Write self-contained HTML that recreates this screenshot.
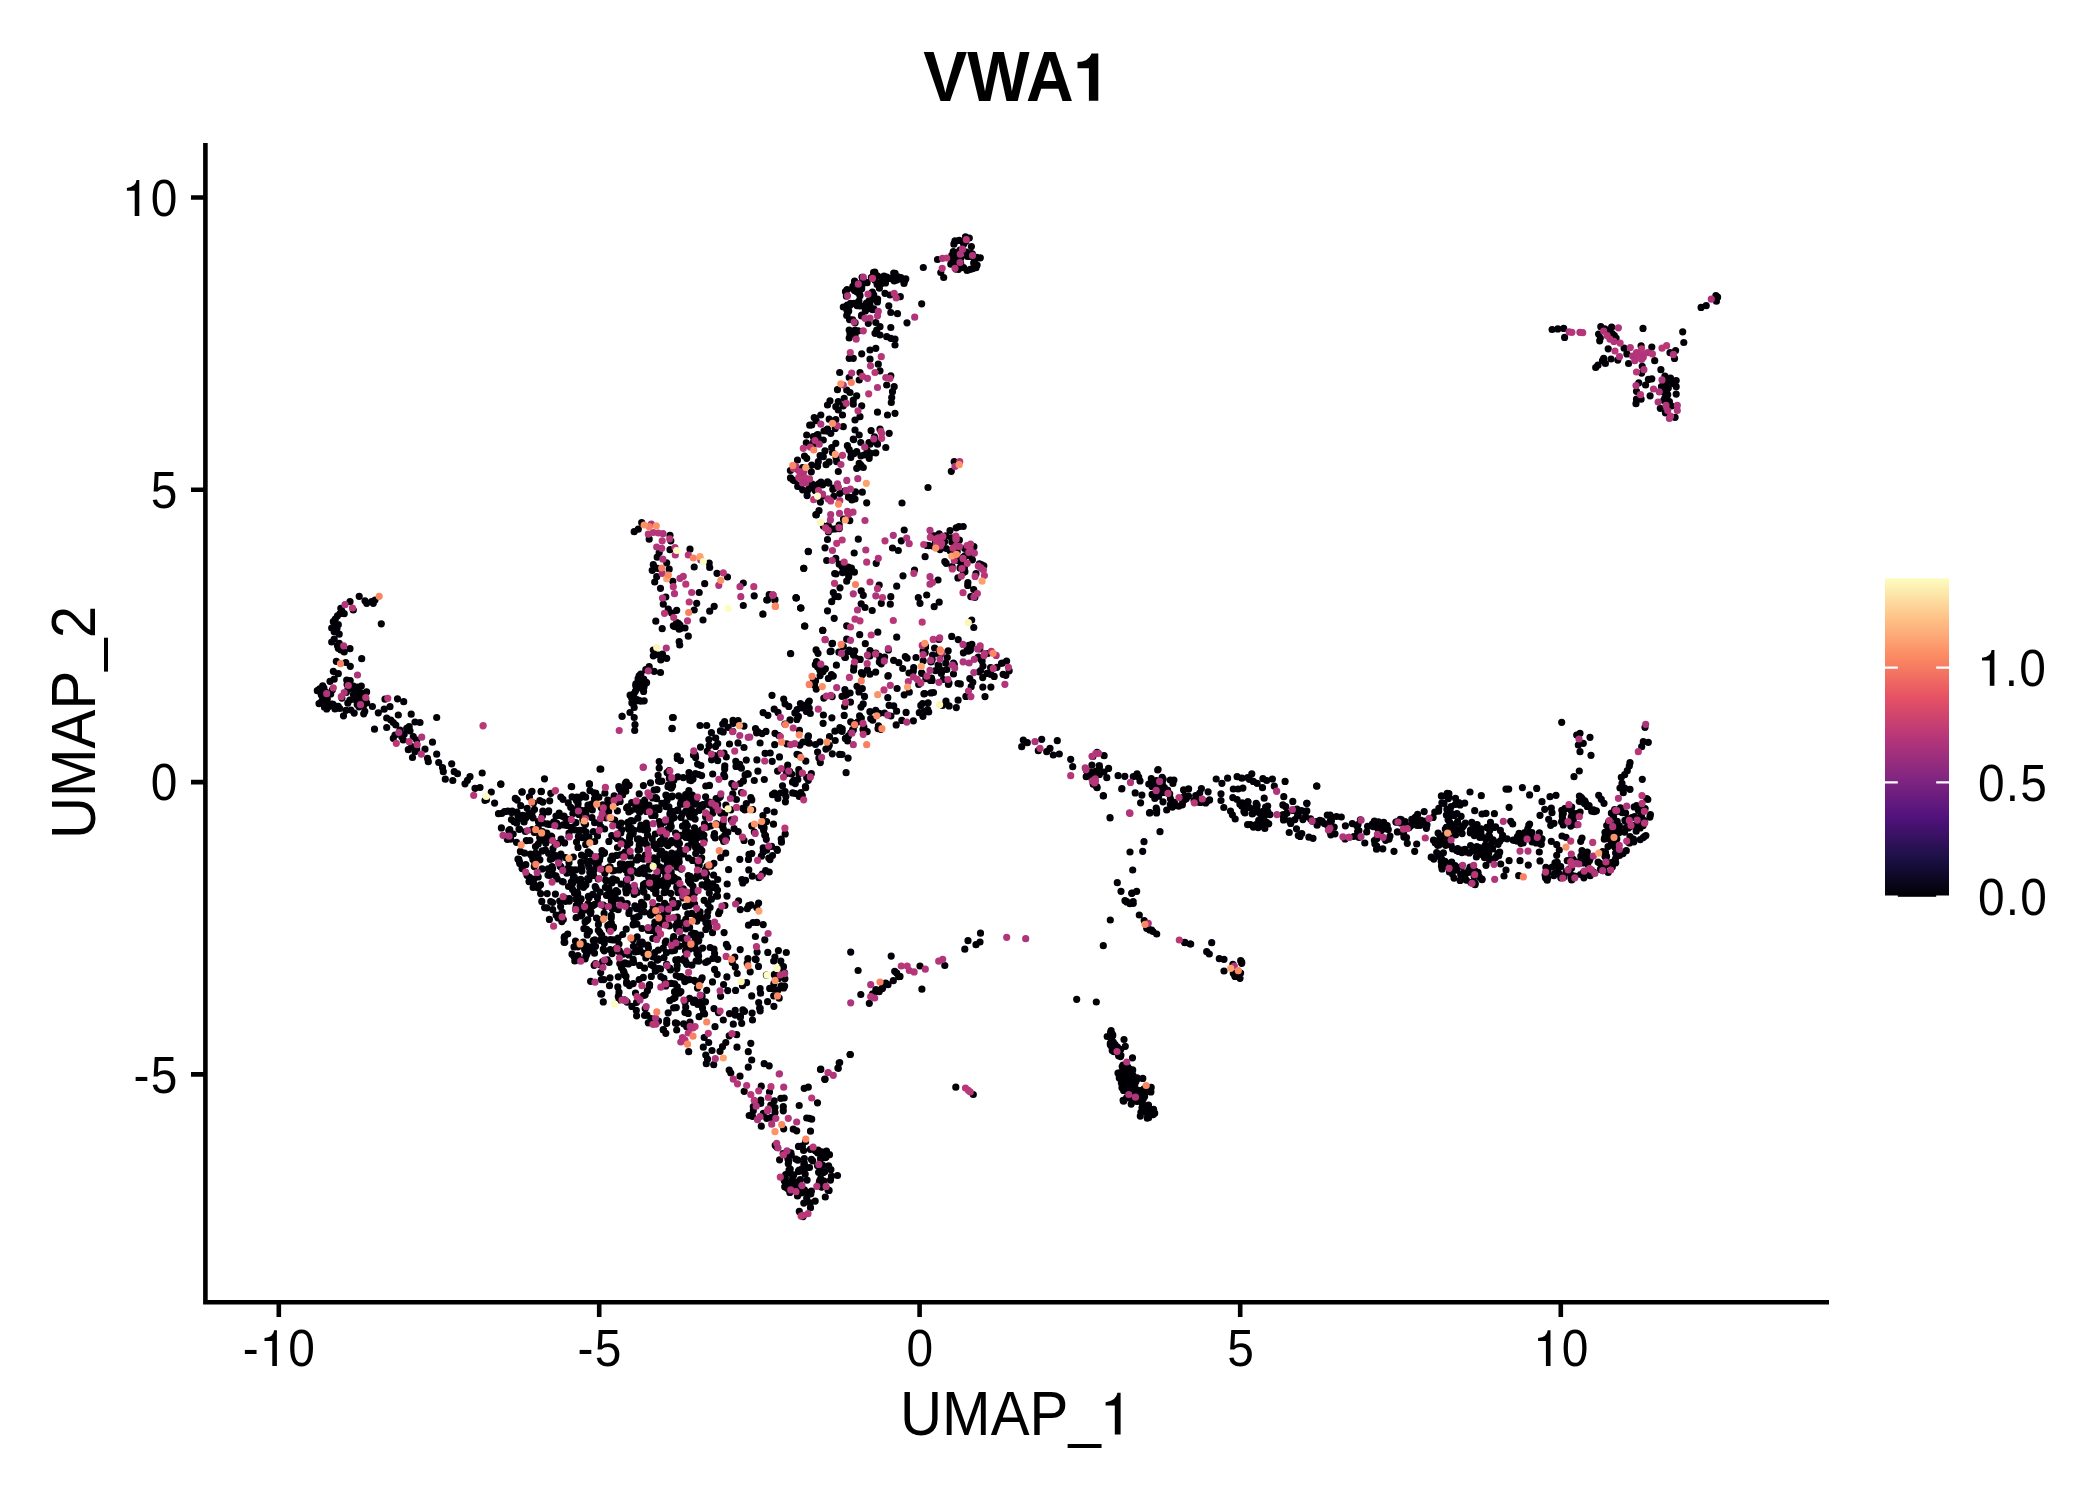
<!DOCTYPE html>
<html><head><meta charset="utf-8"><title>VWA1</title>
<style>
html,body{margin:0;padding:0;background:#fff;}
body{width:2100px;height:1500px;overflow:hidden;font-family:"Liberation Sans",sans-serif;}
svg{display:block;}
text{font-family:"Liberation Sans",sans-serif;fill:#000;}
</style></head><body>
<svg width="2100" height="1500" viewBox="0 0 2100 1500">
<defs>
<linearGradient id="mg" x1="0" y1="1" x2="0" y2="0">
<stop offset="0" stop-color="#000004"/><stop offset="0.125" stop-color="#1D1147"/><stop offset="0.25" stop-color="#51127C"/><stop offset="0.375" stop-color="#822681"/><stop offset="0.5" stop-color="#B63679"/><stop offset="0.625" stop-color="#E65164"/><stop offset="0.75" stop-color="#FB8861"/><stop offset="0.875" stop-color="#FEC287"/><stop offset="1" stop-color="#FCFDBF"/>
</linearGradient>
</defs>
<rect width="2100" height="1500" fill="#fff"/>
<g fill="none" stroke-linecap="round" stroke-width="7.2">
<path d="M1023.3 740.0h0M1021.7 746.7h0M1059.3 754.0h0M1072.7 766.7h0M1086.5 770.6h0M1099.3 765.5h0M1089.9 775.9h0M1106.8 777.7h0M1104.0 772.0h0M1092.6 776.5h0M1108.6 768.4h0M1086.2 776.7h0M1091.9 765.1h0M1124.8 776.3h0M1137.1 773.8h0M1141.9 795.1h0M1133.3 776.7h0M1103.4 795.7h0M1156.2 808.1h0M1182.7 801.2h0M1159.6 788.0h0M1157.6 790.0h0M1188.5 796.1h0M1164.4 787.5h0M1152.0 786.4h0M1163.2 779.3h0M1167.6 790.0h0M1170.3 804.6h0M1154.8 798.5h0M1184.2 799.5h0M1157.1 782.4h0M1174.4 802.3h0M1201.0 802.3h0M1205.7 802.9h0M1209.6 799.9h0M1203.3 801.6h0M1208.1 791.8h0M1216.2 779.0h0M1227.6 778.2h0M1251.8 773.8h0M1272.4 779.0h0M1274.3 786.2h0M1249.5 779.5h0M1233.3 789.0h0M1307.0 803.3h0M1247.6 824.7h0M1259.0 826.6h0M1264.8 828.5h0M1252.5 813.4h0M1245.2 807.9h0M1260.7 814.2h0M1267.7 806.0h0M1263.0 811.4h0M1247.8 801.8h0M1257.2 805.3h0M1242.1 802.8h0M1249.4 807.5h0M1265.6 807.0h0M1150.0 812.7h0M1316.7 786.0h0M1289.6 820.9h0M1376.8 838.7h0M1349.0 837.3h0M1374.4 840.6h0M1372.5 823.8h0M1389.1 839.1h0M1301.5 810.6h0M1330.5 820.5h0M1374.9 843.8h0M1334.2 827.1h0M1289.2 832.5h0M1376.5 849.2h0M1387.2 825.7h0M1374.4 821.2h0M1313.0 838.3h0M1298.3 815.5h0M1319.8 820.3h0M1297.0 809.0h0M1285.7 806.7h0M1376.7 846.0h0M1360.4 819.8h0M1296.5 828.8h0M1382.8 848.8h0M1411.0 825.6h0M1400.2 819.3h0M1401.3 819.7h0M1415.3 820.9h0M1411.8 819.4h0M1426.4 828.3h0M1417.2 825.5h0M1395.9 822.1h0M1415.5 817.1h0M1424.4 821.0h0M1407.0 825.7h0M1416.7 844.0h0M1407.3 843.3h0M1438.8 808.4h0M1451.1 806.6h0M1444.0 803.3h0M1446.9 809.4h0M1447.0 795.0h0M1470.0 792.0h0M1506.0 789.1h0M1529.6 794.9h0M1482.0 814.0h0M1493.1 859.3h0M1470.5 830.0h0M1439.2 840.1h0M1480.9 831.9h0M1499.8 841.3h0M1458.8 851.4h0M1465.4 823.2h0M1495.6 826.8h0M1475.0 831.5h0M1433.5 840.2h0M1462.5 826.1h0M1470.6 845.5h0M1454.8 829.1h0M1489.3 836.4h0M1448.1 819.7h0M1485.6 855.2h0M1493.1 839.8h0M1489.5 860.0h0M1489.7 830.4h0M1447.0 844.6h0M1457.6 821.5h0M1485.8 850.0h0M1495.6 857.4h0M1452.6 849.0h0M1498.1 844.3h0M1444.8 838.4h0M1452.7 825.0h0M1486.0 838.6h0M1446.5 827.3h0M1472.5 850.9h0M1483.0 850.3h0M1443.6 835.7h0M1491.9 842.5h0M1456.2 823.8h0M1445.7 845.3h0M1487.8 856.9h0M1491.9 848.3h0M1440.7 854.3h0M1469.0 869.8h0M1460.7 874.6h0M1460.1 880.4h0M1463.6 874.4h0M1431.2 857.2h0M1452.2 873.8h0M1449.4 872.0h0M1455.1 865.5h0M1474.2 876.4h0M1470.1 867.2h0M1466.3 880.1h0M1461.5 866.5h0M1443.4 852.8h0M1444.4 866.1h0M1468.5 872.3h0M1482.0 879.7h0M1506.0 870.0h0M1504.0 876.0h0M1528.3 865.1h0M1540.0 860.9h0M1518.7 875.7h0M1512.7 824.0h0M1527.6 835.9h0M1520.7 841.8h0M1536.2 842.9h0M1540.4 843.4h0M1517.1 841.1h0M1513.1 840.1h0M1523.1 843.0h0M1527.3 837.6h0M1521.0 843.5h0M1514.4 840.3h0M1542.0 801.7h0M1550.0 796.7h0M1544.7 809.3h0M1601.3 799.3h0M1551.3 841.3h0M1559.3 850.0h0M1646.7 798.7h0M1629.3 766.0h0M1624.7 788.0h0M1573.7 818.6h0M1571.9 821.8h0M1562.3 816.5h0M1563.3 824.9h0M1587.2 806.4h0M1579.3 801.3h0M1579.4 796.0h0M1585.0 804.0h0M1591.7 811.2h0M1582.3 798.8h0M1584.8 800.8h0M1589.1 805.7h0M1601.7 864.9h0M1638.4 810.4h0M1623.0 853.6h0M1614.0 828.4h0M1614.6 809.7h0M1629.5 842.9h0M1630.5 825.4h0M1642.6 811.6h0M1621.0 810.6h0M1608.0 846.6h0M1633.4 839.1h0M1620.5 807.9h0M1614.6 844.5h0M1645.9 835.5h0M1607.5 825.9h0M1613.9 841.3h0M1606.7 825.5h0M1637.5 827.3h0M1650.4 814.5h0M1610.4 833.1h0M1627.7 819.2h0M1617.2 830.0h0M1608.8 821.7h0M1615.0 847.2h0M1600.3 863.6h0M1641.3 814.6h0M1602.7 851.5h0M1619.5 855.5h0M1602.9 870.6h0M1632.9 840.0h0M1611.2 837.8h0M1574.7 876.0h0M1574.0 861.7h0M1571.7 880.0h0M1569.2 869.1h0M1589.5 860.4h0M1552.1 867.0h0M1580.5 874.5h0M1571.2 879.0h0M1590.1 858.0h0M1582.4 862.9h0M1583.5 872.4h0M1559.5 874.0h0M1545.5 877.8h0M1586.9 872.4h0M1558.8 866.4h0M1572.1 864.2h0M1572.2 862.7h0M1567.3 860.7h0M1553.9 875.6h0M1567.9 871.1h0M1557.3 862.4h0M1641.7 746.7h0M1643.3 741.7h0M1645.0 727.3h0M1642.3 779.3h0M1591.0 755.3h0M1574.0 776.7h0M1576.7 735.0h0M1126.7 901.7h0M1133.3 903.3h0M1130.0 903.3h0M1209.3 954.0h0M1219.3 958.7h0M1103.3 945.7h0M1235.0 976.0h0M585.9 951.1h0M643.7 859.2h0M547.2 893.6h0M504.4 811.7h0M590.6 913.6h0M679.5 976.9h0M575.5 809.8h0M610.4 939.6h0M600.2 856.4h0M716.1 798.7h0M648.7 877.2h0M705.5 1001.8h0M695.0 845.4h0M710.9 866.1h0M486.4 799.7h0M672.3 796.0h0M709.6 802.1h0M671.1 842.8h0M625.5 866.7h0M542.9 822.9h0M623.5 854.2h0M613.3 927.9h0M582.8 910.3h0M621.9 829.5h0M640.1 840.6h0M604.6 829.0h0M618.2 909.7h0M617.8 986.9h0M694.8 892.7h0M575.9 908.9h0M590.6 981.3h0M576.0 960.0h0M557.2 878.8h0M588.4 896.3h0M712.7 887.3h0M681.2 801.5h0M627.5 784.7h0M658.0 959.6h0M548.6 853.5h0M689.6 998.4h0M547.2 823.9h0M607.8 925.7h0M625.3 783.6h0M586.9 920.6h0M688.0 847.7h0M593.3 940.5h0M652.2 838.7h0M698.5 848.3h0M563.3 919.5h0M622.6 795.0h0M592.3 951.0h0M705.8 929.4h0M621.3 793.6h0M516.5 842.3h0M597.5 836.0h0M700.1 1002.9h0M585.5 824.3h0M707.8 903.8h0M676.0 811.0h0M684.9 959.5h0M643.4 995.5h0M685.0 1002.2h0M699.1 831.9h0M541.8 901.4h0M684.8 981.6h0M695.8 878.3h0M695.1 819.1h0M572.1 796.9h0M624.4 999.9h0M578.2 909.2h0M610.2 867.0h0M698.2 952.3h0M625.7 889.4h0M676.3 1007.6h0M633.5 923.8h0M675.3 941.1h0M660.5 844.0h0M695.8 981.6h0M548.0 875.1h0M719.8 911.2h0M691.1 799.7h0M588.0 903.9h0M702.6 948.1h0M631.0 877.6h0M700.8 980.3h0M655.5 971.1h0M664.0 957.7h0M596.5 918.0h0M683.3 777.6h0M611.9 883.0h0M633.9 830.3h0M529.6 877.4h0M594.6 822.7h0M663.3 1029.5h0M675.4 1022.9h0M668.0 786.7h0M705.7 962.5h0M525.8 864.7h0M507.9 811.0h0M699.9 805.7h0M633.0 871.0h0M564.5 936.6h0M711.4 899.2h0M649.7 954.5h0M690.9 813.4h0M702.5 918.2h0M694.6 904.0h0M688.9 790.7h0M556.0 875.9h0M692.1 892.1h0M622.7 864.0h0M636.5 908.7h0M698.8 961.1h0M702.1 884.9h0M650.9 1018.6h0M551.7 836.6h0M712.5 981.9h0M695.7 853.6h0M643.9 867.9h0M594.5 953.2h0M660.5 968.9h0M651.5 929.4h0M661.6 851.0h0M689.8 948.9h0M628.9 829.5h0M698.6 832.6h0M525.4 831.5h0M625.0 789.1h0M563.1 824.8h0M620.4 832.4h0M690.0 1022.2h0M501.4 827.9h0M727.8 832.2h0M604.7 906.4h0M586.4 861.5h0M577.7 813.2h0M666.0 806.7h0M631.9 1006.4h0M598.2 879.0h0M719.1 797.8h0M546.8 833.1h0M680.2 850.2h0M708.7 927.0h0M485.0 800.5h0M518.8 859.4h0M616.5 855.4h0M501.9 813.3h0M686.9 964.3h0M686.8 831.7h0M627.7 806.9h0M548.2 812.0h0M696.1 961.0h0M668.5 784.8h0M639.2 793.8h0M709.3 893.1h0M574.8 961.0h0M601.7 935.2h0M731.8 783.7h0M515.3 798.4h0M619.0 992.2h0M510.6 839.2h0M717.7 879.5h0M677.3 986.8h0M674.5 950.5h0M599.1 860.5h0M569.0 836.5h0M708.4 922.9h0M606.5 881.0h0M534.3 866.6h0M667.5 884.5h0M723.0 823.8h0M558.9 857.7h0M654.7 808.2h0M624.1 972.5h0M614.1 894.9h0M546.8 907.8h0M532.0 813.0h0M611.9 819.0h0M517.8 815.1h0M572.0 954.2h0M705.9 922.7h0M670.4 864.5h0M644.6 1015.4h0M585.0 885.4h0M686.7 927.3h0M689.2 777.1h0M713.9 863.3h0M566.9 873.2h0M548.1 868.8h0M552.1 858.6h0M694.7 812.7h0M522.3 818.2h0M639.2 949.3h0M519.8 863.6h0M618.6 951.5h0M688.6 880.4h0M659.8 854.9h0M595.5 963.7h0M511.4 819.6h0M610.7 859.7h0M603.8 979.6h0M721.3 812.8h0M679.1 927.2h0M580.6 916.0h0M638.1 850.1h0M561.8 921.6h0M585.9 956.0h0M736.4 799.5h0M675.0 842.1h0M642.9 944.2h0M715.2 838.0h0M689.3 812.7h0M612.5 859.4h0M667.3 906.2h0M593.2 946.3h0M692.9 896.3h0M668.9 862.8h0M661.8 867.8h0M669.8 1000.6h0M646.4 811.4h0M685.4 1000.7h0M648.3 1022.8h0M615.6 898.8h0M611.4 904.4h0M663.9 978.3h0M615.2 836.4h0M578.0 847.4h0M598.1 865.5h0M677.2 965.6h0M534.2 832.3h0M672.6 900.0h0M577.9 801.8h0M583.9 928.7h0M581.9 871.1h0M656.2 932.9h0M703.5 1012.5h0M630.2 855.9h0M648.4 930.5h0M535.6 853.0h0M588.8 866.9h0M715.8 800.9h0M643.3 977.4h0M600.7 826.7h0M705.1 825.9h0M709.3 865.4h0M627.2 845.7h0M683.8 922.4h0M697.0 953.6h0M619.2 1000.0h0M583.5 829.8h0M676.9 968.7h0M586.1 909.9h0M668.8 864.2h0M631.2 828.1h0M637.2 936.9h0M519.0 829.0h0M698.7 774.5h0M723.0 823.1h0M628.9 913.4h0M649.4 869.1h0M680.9 991.6h0M604.4 817.5h0M691.2 800.8h0M580.1 886.1h0M677.4 844.3h0M633.2 959.4h0M578.1 803.8h0M588.9 837.2h0M552.6 902.5h0M539.8 800.6h0M613.0 904.4h0M726.5 838.6h0M649.3 985.9h0M666.5 795.6h0M673.5 943.4h0M585.1 921.9h0M614.7 820.1h0M601.7 993.8h0M697.8 1004.5h0M604.2 853.3h0M655.0 815.4h0M535.4 859.8h0M506.8 811.3h0M621.1 840.9h0M636.6 1015.8h0M713.3 804.0h0M702.1 977.9h0M633.2 833.4h0M612.1 856.1h0M585.7 797.2h0M636.6 1002.3h0M653.8 843.7h0M713.9 836.0h0M604.9 939.1h0M689.2 833.5h0M664.2 911.0h0M544.6 907.6h0M631.7 802.5h0M706.7 990.3h0M558.5 855.8h0M706.3 803.5h0M667.5 864.2h0M584.5 856.5h0M679.5 946.1h0M682.3 813.8h0M666.0 941.0h0M702.4 806.7h0M602.3 815.2h0M652.9 888.4h0M665.3 854.2h0M598.3 930.3h0M597.3 897.2h0M578.9 814.4h0M658.5 906.3h0M616.4 802.4h0M577.2 892.1h0M569.0 862.7h0M581.4 868.7h0M588.1 851.8h0M690.5 876.7h0M639.0 907.1h0M683.7 960.3h0M647.5 835.0h0M619.3 950.7h0M671.5 840.6h0M646.7 883.8h0M620.4 863.9h0M573.3 857.0h0M595.6 863.3h0M621.2 900.0h0M668.3 924.4h0M674.2 879.4h0M635.4 952.0h0M551.2 836.2h0M630.3 877.2h0M593.6 875.3h0M635.7 809.1h0M662.1 870.4h0M529.9 840.5h0M689.8 896.3h0M670.8 893.3h0M630.0 835.9h0M675.4 878.6h0M639.2 845.2h0M664.9 884.6h0M550.3 859.5h0M630.8 810.6h0M561.1 839.2h0M625.0 962.8h0M695.5 933.7h0M678.2 903.7h0M528.4 814.6h0M691.3 893.1h0M629.0 825.2h0M654.4 877.2h0M572.2 869.8h0M655.3 834.0h0M653.2 907.2h0M611.3 915.4h0M627.6 886.7h0M643.3 904.3h0M660.4 841.2h0M588.5 805.7h0M587.8 919.5h0M617.4 810.8h0M588.0 805.2h0M588.9 879.6h0M655.7 893.5h0M639.1 916.2h0M587.9 863.8h0M572.5 889.4h0M671.2 872.0h0M596.2 888.5h0M602.0 850.6h0M646.8 868.2h0M656.0 913.1h0M645.3 855.0h0M699.1 861.0h0M641.0 807.8h0M666.5 952.7h0M590.6 860.8h0M637.3 872.8h0M628.8 954.9h0M575.7 899.0h0M625.1 852.1h0M615.7 799.4h0M678.1 880.2h0M649.3 865.5h0M664.6 903.3h0M648.5 948.1h0M671.9 876.2h0M662.7 917.8h0M664.1 892.7h0M586.9 809.6h0M657.6 875.1h0M645.4 883.4h0M574.5 893.2h0M701.5 829.9h0M532.1 829.7h0M553.0 848.5h0M744.8 810.0h0M776.9 849.3h0M780.3 969.6h0M762.9 815.6h0M767.8 952.4h0M773.7 995.8h0M758.7 1002.6h0M738.2 831.7h0M769.2 872.0h0M764.8 939.8h0M740.2 949.6h0M751.8 799.9h0M738.6 900.8h0M765.6 870.5h0M734.8 957.1h0M758.5 966.4h0M748.5 925.2h0M726.9 976.9h0M735.6 990.4h0M751.7 995.9h0M740.3 909.6h0M735.2 1010.3h0M767.6 1001.7h0M741.5 792.6h0M742.9 1009.9h0M770.0 859.6h0M760.6 993.2h0M780.8 961.0h0M756.9 922.4h0M784.6 972.9h0M755.2 959.0h0M754.3 832.0h0M777.4 850.3h0M757.1 952.1h0M751.0 904.9h0M747.3 908.7h0M784.6 986.0h0M776.3 973.3h0M771.6 846.3h0M785.2 833.9h0M766.6 850.2h0M763.2 852.0h0M764.1 827.9h0M715.7 738.0h0M780.5 793.0h0M829.5 736.7h0M700.5 747.1h0M832.3 753.8h0M797.1 709.6h0M790.0 719.9h0M766.0 731.4h0M785.0 724.1h0M919.3 712.7h0M806.4 711.4h0M805.8 761.2h0M878.5 725.9h0M825.9 749.1h0M697.6 764.1h0M869.9 711.7h0M760.1 743.0h0M728.1 727.3h0M799.1 755.1h0M720.4 730.9h0M802.1 707.8h0M786.8 743.8h0M795.3 783.6h0M755.5 728.5h0M757.8 731.7h0M831.9 717.8h0M806.7 777.7h0M928.1 702.8h0M878.0 728.6h0M724.6 721.6h0M842.0 696.3h0M956.3 707.6h0M857.9 721.8h0M782.5 785.8h0M808.4 735.8h0M839.9 727.6h0M800.4 703.5h0M820.0 741.8h0M931.0 692.9h0M842.1 731.3h0M773.8 794.1h0M677.3 758.4h0M803.0 742.0h0M711.4 732.7h0M799.5 730.3h0M808.3 780.3h0M850.5 702.1h0M797.8 779.5h0M861.0 707.1h0M741.4 768.2h0M789.5 771.3h0M778.0 712.4h0M744.0 747.5h0M909.3 692.2h0M901.8 720.4h0M800.8 792.7h0M924.0 711.6h0M924.7 693.6h0M708.9 739.6h0M842.0 754.5h0M850.7 721.8h0M745.1 774.9h0M906.1 712.4h0M985.0 696.6h0M711.6 759.8h0M853.5 723.3h0M785.0 703.8h0M680.6 760.6h0M754.3 780.5h0M808.1 742.6h0M785.9 796.6h0M848.2 693.5h0M850.1 693.0h0M844.2 715.4h0M927.7 709.7h0M738.0 742.9h0M792.7 792.9h0M852.7 729.7h0M762.1 733.6h0M658.1 775.3h0M677.3 756.1h0M672.0 728.7h0M732.8 731.3h0M772.0 695.3h0M532.0 791.3h0M541.3 791.3h0M846.1 772.7h0M860.8 994.5h0M893.3 980.7h0M980.0 942.0h0M980.5 933.2h0M839.2 1062.8h0M820.8 1069.2h0M715.0 1026.7h0M723.3 1020.0h0M703.3 1047.2h0M725.8 1042.5h0M722.5 1046.7h0M750.8 1043.3h0M764.2 1063.7h0M761.3 1086.2h0M774.2 1100.8h0M783.3 1110.8h0M770.8 1117.5h0M760.8 1103.3h0M775.0 1112.5h0M770.8 1105.0h0M799.2 1105.5h0M804.2 1088.3h0M810.5 1131.2h0M839.7 1062.5h0M850.3 1054.5h0M789.8 1192.4h0M831.5 1176.1h0M826.1 1156.9h0M804.3 1158.6h0M803.5 1171.1h0M804.3 1163.1h0M819.6 1180.9h0M810.8 1194.0h0M798.5 1171.1h0M791.3 1154.9h0M830.9 1169.6h0M828.6 1165.8h0M819.3 1182.3h0M775.2 1145.3h0M795.2 1185.1h0M787.1 1183.1h0M785.7 1174.6h0M822.5 1165.2h0M812.7 1160.8h0M799.5 1192.0h0M806.7 1198.2h0M790.9 1152.9h0M821.6 1187.1h0M788.7 1161.1h0M821.7 1151.8h0M811.5 1159.4h0M779.6 1159.8h0M785.4 1178.0h0M803.8 1203.1h0M817.7 1152.8h0M791.4 1188.1h0M366.7 603.3h0M338.3 624.7h0M334.2 639.2h0M331.7 642.0h0M350.0 648.7h0M350.3 666.3h0M381.3 623.8h0M337.0 628.3h0M335.3 619.2h0M335.0 626.7h0M330.7 693.9h0M361.6 703.9h0M331.5 704.1h0M349.9 700.0h0M343.5 715.8h0M321.9 701.0h0M333.1 704.3h0M324.5 707.2h0M332.4 689.8h0M357.0 687.2h0M353.4 686.2h0M326.7 708.9h0M347.1 684.5h0M335.0 709.0h0M366.6 691.9h0M338.2 706.3h0M322.7 685.8h0M357.2 704.5h0M348.0 689.1h0M327.2 704.1h0M350.9 710.0h0M321.1 694.0h0M346.0 710.3h0M353.5 699.1h0M321.4 695.0h0M322.6 699.4h0M346.4 692.3h0M372.4 706.5h0M363.7 713.8h0M330.0 681.3h0M385.0 699.2h0M390.0 706.7h0M398.3 715.0h0M386.7 718.0h0M386.7 727.5h0M410.0 730.8h0M432.5 742.2h0M415.0 751.7h0M425.0 749.2h0M436.7 754.2h0M438.7 762.5h0M442.5 767.5h0M451.7 763.8h0M454.2 771.7h0M457.5 773.7h0M491.3 792.0h0M390.8 720.0h0M406.7 728.3h0M395.0 735.0h0M416.7 749.2h0M622.2 716.3h0M589.5 784.2h0M522.0 792.0h0M531.7 791.7h0M560.8 797.0h0M549.7 800.8h0M618.8 786.7h0M634.2 531.7h0M649.2 539.2h0M670.0 549.7h0M657.2 557.2h0M666.7 562.8h0M656.7 576.7h0M673.3 625.8h0M709.2 563.0h0M766.7 600.0h0M774.7 600.0h0M704.7 583.7h0M694.2 610.0h0M703.0 620.0h0M709.7 611.2h0M653.3 650.0h0M658.3 655.0h0M660.8 660.0h0M645.8 669.7h0M644.2 700.8h0M622.0 716.3h0M673.3 717.5h0M808.3 551.3h0M800.8 608.0h0M804.7 626.2h0M790.5 653.7h0M642.5 681.5h0M635.5 691.0h0M640.7 701.2h0M640.8 674.1h0M645.5 682.0h0M640.1 683.8h0M639.5 700.5h0M635.8 685.8h0M632.4 701.9h0M630.1 695.2h0M641.8 687.7h0M631.9 702.9h0M828.4 532.0h0M835.7 528.8h0M827.6 481.9h0M818.7 483.8h0M807.1 495.6h0M833.8 488.2h0M802.6 489.8h0M855.0 499.0h0M828.3 525.7h0M849.8 520.6h0M855.5 491.9h0M848.6 497.1h0M820.4 502.1h0M807.4 490.9h0M815.9 514.7h0M828.8 483.2h0M797.7 486.5h0M799.9 486.3h0M790.4 470.5h0M802.7 476.0h0M812.3 484.0h0M851.9 500.0h0M802.6 467.6h0M824.0 431.0h0M820.1 455.5h0M826.1 464.7h0M836.1 457.8h0M835.2 428.4h0M857.8 467.5h0M876.6 442.4h0M847.4 445.7h0M954.2 461.7h0M928.0 487.5h0M951.4 537.8h0M925.1 556.7h0M946.2 563.3h0M933.3 546.2h0M969.0 552.1h0M926.9 545.4h0M976.0 573.7h0M967.9 582.5h0M957.2 551.5h0M981.3 564.5h0M934.9 535.9h0M964.7 548.5h0M950.0 530.6h0M960.2 559.0h0M958.9 526.7h0M968.3 550.2h0M957.9 577.9h0M946.3 548.5h0M964.9 571.7h0M940.0 549.6h0M979.4 563.9h0M959.4 540.0h0M944.6 541.8h0M929.0 545.7h0M896.7 586.2h0M920.0 603.3h0M934.2 606.7h0M858.3 539.2h0M825.0 547.8h0M826.7 560.5h0M846.7 581.2h0M840.0 587.8h0M833.3 592.5h0M838.3 596.7h0M861.2 590.8h0M863.3 595.3h0M881.3 603.3h0M890.3 604.2h0M834.2 618.3h0M804.7 626.2h0M822.8 630.3h0M877.8 632.2h0M832.5 643.3h0M849.2 650.0h0M775.0 599.7h0M971.7 620.0h0M844.1 571.7h0M834.7 573.5h0M848.4 573.2h0M843.3 570.8h0M844.5 567.5h0M967.1 270.5h0M971.4 246.6h0M970.5 256.4h0M956.1 268.4h0M967.3 256.3h0M976.0 267.7h0M970.2 269.3h0M963.6 242.7h0M959.8 261.7h0M951.7 259.6h0M967.9 256.2h0M969.3 238.0h0M970.9 253.7h0M943.7 277.5h0M955.0 240.8h0M865.4 310.9h0M880.4 283.1h0M861.5 316.0h0M905.8 278.8h0M846.7 315.5h0M876.1 275.3h0M870.2 308.4h0M890.9 278.6h0M846.9 310.0h0M863.2 280.2h0M883.1 277.7h0M859.6 294.1h0M871.7 277.5h0M894.3 281.0h0M880.4 284.2h0M854.1 303.4h0M879.4 288.2h0M861.7 288.8h0M896.3 280.2h0M904.0 283.5h0M855.5 291.0h0M853.1 288.8h0M884.0 276.2h0M847.1 314.6h0M885.5 282.9h0M873.8 308.9h0M843.3 307.0h0M883.3 277.8h0M890.0 295.0h0M900.3 296.7h0M888.8 305.8h0M890.8 312.5h0M921.7 303.8h0M890.8 327.5h0M849.2 330.0h0M880.0 326.7h0M886.7 336.7h0M890.8 338.3h0M895.0 339.2h0M895.0 345.0h0M870.0 350.0h0M853.3 358.3h0M870.0 359.2h0M839.7 372.5h0M849.2 377.5h0M846.7 390.0h0M853.3 400.0h0M861.7 405.8h0M838.3 410.0h0M860.0 416.7h0M855.0 420.0h0M894.2 386.7h0M814.2 417.5h0M820.8 415.0h0M811.7 425.0h0M843.3 426.7h0M827.5 429.2h0M855.0 430.0h0M859.2 435.0h0M806.7 435.0h0M818.3 438.3h0M823.3 440.0h0M831.7 447.5h0M825.0 450.8h0M832.5 452.5h0M860.8 442.5h0M870.0 444.2h0M864.2 455.0h0M870.8 453.3h0M818.3 461.7h0M859.2 463.3h0M856.7 468.3h0M1716.4 301.2h0M1552.1 329.5h0M1614.4 335.7h0M1616.1 338.0h0M1598.0 365.2h0M1611.0 359.0h0M1651.8 347.1h0M1675.6 350.5h0M1674.5 358.4h0M1643.0 328.4h0M1683.8 342.5h0M1642.2 366.3h0M1670.5 378.2h0M1676.2 380.5h0M1648.4 379.4h0M1676.2 386.7h0M1661.5 386.7h0M1636.5 391.3h0M1650.1 395.8h0M1676.2 394.1h0M1664.9 398.1h0M1641.1 399.2h0M1636.0 403.7h0M1660.3 408.3h0M1667.1 381.6h0M1663.2 391.8h0M922.0 673.3h0M921.6 672.9h0M970.4 650.1h0M978.3 657.0h0M947.3 657.5h0M938.9 665.5h0M963.4 652.8h0M934.6 648.0h0M968.9 645.4h0M925.5 647.0h0M972.8 682.3h0M996.9 667.3h0M1003.1 674.3h0M946.8 669.5h0M925.8 678.7h0M941.3 673.5h0M953.5 674.0h0M923.1 651.2h0M971.2 686.7h0M954.3 664.6h0M925.3 645.8h0M825.4 668.8h0M844.5 654.1h0M868.5 655.8h0M869.8 656.0h0M844.9 689.7h0M884.6 657.0h0M897.1 688.5h0M857.0 686.3h0M888.3 675.6h0M831.1 651.2h0M844.8 657.2h0M887.9 676.2h0M817.7 667.0h0M790.7 653.7h0M796.0 597.7h0M1111.1 1045.7h0M1117.5 1047.1h0M1110.3 1044.6h0M1114.0 1051.7h0M1110.9 1042.5h0M1132.7 1069.9h0M1128.5 1084.3h0M1152.0 1111.7h0M1127.8 1072.4h0M1138.1 1100.8h0M1125.3 1068.4h0M1123.5 1066.9h0M1137.5 1090.1h0M1119.5 1073.0h0M1133.3 1080.5h0M1137.1 1077.9h0M1123.6 1101.2h0M1136.5 1099.0h0M1127.4 1076.7h0M1150.9 1091.9h0M1132.8 1074.9h0M1143.3 1107.0h0M1144.8 1092.7h0M1135.5 1092.3h0M1129.1 1073.0h0M1142.8 1078.4h0M1139.8 1095.3h0M1121.7 1080.1h0M1129.3 1080.3h0M1147.8 1114.3h0M1135.9 1081.5h0M1153.6 1109.3h0M1121.4 1083.0h0M1147.7 1087.9h0M1127.1 1078.8h0M1128.7 1097.9h0M1144.6 1096.5h0M1130.1 1071.4h0M882.4 988.4h0M885.7 983.0h0M896.7 973.1h0M1126.7 901.9h0M1133.2 901.5h0M1147.5 927.1h0M1149.7 929.9h0M1184.7 942.4h0M1190.2 944.0h0M1241.7 962.1h0" stroke="#030209"/>
<path d="M1041.7 739.3h0M1050.0 748.3h0M1053.3 755.0h0M1070.7 759.3h0M1092.9 756.5h0M1090.3 774.0h0M1092.6 772.5h0M1097.1 752.4h0M1118.1 775.7h0M1121.9 788.7h0M1135.2 792.9h0M1110.1 818.0h0M1093.3 783.9h0M1149.5 812.9h0M1166.7 810.0h0M1163.0 801.8h0M1155.2 782.6h0M1163.4 792.4h0M1169.7 793.9h0M1185.1 799.3h0M1152.1 794.4h0M1162.2 777.3h0M1182.4 804.8h0M1157.3 791.0h0M1148.8 784.0h0M1158.7 796.2h0M1156.0 781.7h0M1197.9 800.3h0M1201.4 788.6h0M1199.7 793.0h0M1197.3 801.9h0M1195.7 795.5h0M1206.7 801.6h0M1221.9 783.3h0M1247.6 777.6h0M1221.0 793.8h0M1221.0 800.5h0M1230.5 811.0h0M1235.2 819.0h0M1238.1 789.0h0M1232.8 797.6h0M1283.8 814.8h0M1256.8 808.6h0M1241.9 806.2h0M1247.9 801.8h0M1253.4 827.1h0M1261.1 823.6h0M1254.5 808.6h0M1256.2 803.4h0M1264.6 815.5h0M1245.0 813.0h0M1256.0 824.6h0M1110.0 817.7h0M1103.3 796.0h0M1121.7 789.0h0M1096.7 786.7h0M1306.7 803.3h0M1353.8 836.5h0M1364.8 843.0h0M1327.6 825.5h0M1379.2 826.8h0M1270.0 814.6h0M1322.0 821.1h0M1386.3 825.7h0M1357.6 831.5h0M1305.3 811.4h0M1324.6 823.7h0M1388.3 829.6h0M1358.9 830.5h0M1312.3 821.1h0M1373.2 826.6h0M1386.2 829.0h0M1330.8 834.8h0M1345.1 838.9h0M1268.8 823.8h0M1345.4 825.8h0M1341.3 817.0h0M1385.6 840.3h0M1306.8 810.9h0M1352.3 823.6h0M1367.6 826.4h0M1381.1 830.7h0M1302.9 819.6h0M1308.9 837.2h0M1378.5 821.9h0M1427.0 824.8h0M1424.2 811.6h0M1420.1 825.3h0M1414.5 820.3h0M1434.8 812.0h0M1397.0 821.8h0M1403.9 837.1h0M1446.4 815.0h0M1449.9 808.9h0M1448.8 796.4h0M1448.4 813.1h0M1458.9 802.5h0M1451.6 813.6h0M1455.5 798.3h0M1457.0 813.7h0M1441.9 802.8h0M1454.1 815.4h0M1450.2 811.9h0M1448.4 798.6h0M1448.9 793.7h0M1464.7 803.1h0M1522.4 787.6h0M1474.7 810.7h0M1490.5 822.3h0M1446.7 827.3h0M1476.4 857.0h0M1493.8 827.4h0M1476.9 846.5h0M1479.3 835.4h0M1449.5 821.8h0M1481.6 836.0h0M1456.8 850.7h0M1474.3 835.6h0M1451.2 845.5h0M1500.4 830.4h0M1485.8 855.8h0M1465.0 849.4h0M1475.6 829.4h0M1435.3 843.0h0M1497.8 853.6h0M1490.6 824.5h0M1507.1 838.8h0M1457.7 848.5h0M1473.0 825.1h0M1485.8 852.4h0M1480.2 831.7h0M1462.1 833.6h0M1502.1 838.7h0M1448.7 836.8h0M1490.2 845.7h0M1471.8 822.4h0M1438.1 833.1h0M1461.1 816.3h0M1480.6 836.9h0M1463.7 825.6h0M1433.8 859.1h0M1481.9 879.0h0M1441.6 859.1h0M1456.5 870.1h0M1463.7 875.2h0M1455.0 869.6h0M1452.5 865.9h0M1442.1 868.9h0M1475.2 883.4h0M1462.8 875.2h0M1438.3 856.1h0M1436.7 852.5h0M1479.4 876.9h0M1465.9 873.3h0M1477.9 872.3h0M1498.7 855.7h0M1510.7 821.3h0M1532.1 842.0h0M1517.5 836.7h0M1523.2 834.5h0M1539.4 832.8h0M1530.0 837.9h0M1524.7 832.6h0M1541.5 839.0h0M1541.3 844.3h0M1541.1 843.6h0M1531.9 832.7h0M1514.4 840.0h0M1527.7 828.9h0M1556.0 795.3h0M1548.7 819.3h0M1598.7 795.3h0M1604.0 803.3h0M1562.0 836.0h0M1566.0 837.3h0M1582.0 850.7h0M1590.0 858.7h0M1622.0 783.3h0M1630.0 789.3h0M1570.8 826.1h0M1571.8 815.3h0M1571.7 807.1h0M1576.5 824.7h0M1571.2 817.0h0M1564.7 808.6h0M1561.8 810.3h0M1561.6 821.7h0M1571.4 811.1h0M1562.6 819.0h0M1573.1 822.9h0M1581.1 797.4h0M1594.1 811.7h0M1593.5 809.8h0M1624.9 820.3h0M1638.2 807.0h0M1616.4 825.5h0M1605.0 864.8h0M1628.4 827.9h0M1615.6 858.5h0M1644.4 836.6h0M1622.3 812.7h0M1609.2 831.1h0M1640.3 839.6h0M1624.6 832.1h0M1643.2 837.6h0M1641.1 822.0h0M1614.6 862.7h0M1608.8 836.5h0M1606.6 856.4h0M1607.3 838.4h0M1615.6 853.0h0M1617.1 832.9h0M1600.4 869.4h0M1644.7 822.6h0M1619.3 853.3h0M1619.1 829.3h0M1643.1 825.4h0M1611.4 813.2h0M1612.7 862.1h0M1630.1 826.6h0M1628.7 826.1h0M1625.4 821.2h0M1611.6 863.0h0M1635.4 825.2h0M1640.4 820.4h0M1636.2 831.2h0M1605.0 856.6h0M1642.0 818.5h0M1617.6 830.0h0M1609.0 822.3h0M1634.6 816.7h0M1617.2 821.4h0M1566.2 871.5h0M1547.7 878.3h0M1580.9 856.2h0M1547.2 880.2h0M1571.2 875.0h0M1573.1 859.3h0M1555.1 873.1h0M1587.3 856.8h0M1546.4 877.0h0M1571.6 868.1h0M1583.9 877.8h0M1578.5 861.8h0M1583.5 874.0h0M1648.3 742.3h0M1590.0 737.3h0M1583.3 743.3h0M1580.0 751.7h0M1160.0 831.7h0M1144.0 841.7h0M1142.7 851.3h0M1132.7 870.0h0M1117.3 882.7h0M1121.0 891.3h0M1156.7 934.0h0M1146.7 928.3h0M1185.0 942.7h0M1190.7 944.0h0M1211.7 942.7h0M1206.7 951.7h0M1224.0 959.3h0M1224.0 971.0h0M1240.0 978.3h0M609.2 929.4h0M669.2 857.8h0M725.9 805.2h0M545.8 840.0h0M593.4 831.7h0M598.4 924.5h0M710.7 826.0h0M607.4 806.2h0M592.0 817.7h0M526.3 840.6h0M623.4 954.1h0M563.2 881.8h0M580.7 879.3h0M722.1 837.9h0M564.8 942.3h0M579.0 959.9h0M640.1 950.6h0M542.4 816.0h0M647.4 990.7h0M512.2 811.0h0M597.4 897.6h0M542.1 868.9h0M568.9 871.6h0M629.1 785.4h0M551.8 856.4h0M704.5 823.8h0M641.5 869.1h0M649.4 986.2h0M666.0 869.3h0M677.8 776.8h0M634.9 893.3h0M600.8 993.9h0M695.5 948.8h0M693.6 797.1h0M660.6 881.4h0M562.1 912.2h0M564.6 842.9h0M709.5 785.4h0M647.5 829.6h0M601.4 964.2h0M674.0 817.7h0M685.9 928.8h0M614.2 795.9h0M631.0 864.1h0M577.9 946.8h0M605.5 809.7h0M620.1 801.4h0M575.9 822.7h0M513.2 834.0h0M712.7 774.0h0M587.7 878.6h0M519.5 861.8h0M516.7 822.9h0M686.9 897.9h0M610.0 977.8h0M685.6 794.6h0M667.5 863.1h0M655.8 968.8h0M674.7 992.0h0M689.6 927.4h0M685.8 837.2h0M665.7 874.5h0M658.5 1021.1h0M635.5 993.0h0M589.4 931.3h0M599.6 859.4h0M700.7 935.1h0M595.5 946.3h0M690.9 802.2h0M658.5 781.1h0M574.7 829.8h0M712.5 932.7h0M713.6 875.2h0M654.1 790.2h0M643.1 888.4h0M713.0 808.5h0M556.1 915.1h0M649.6 984.6h0M570.7 807.3h0M524.6 853.2h0M731.4 819.9h0M531.6 855.6h0M594.5 798.9h0M698.8 939.9h0M655.3 970.7h0M552.0 866.7h0M623.4 971.0h0M660.8 976.6h0M707.8 911.8h0M629.9 843.0h0M699.1 810.3h0M709.6 805.0h0M695.4 842.8h0M574.0 956.5h0M644.4 807.0h0M696.2 799.5h0M687.4 825.7h0M658.4 958.9h0M672.3 907.7h0M663.9 822.5h0M549.4 919.4h0M644.7 840.3h0M572.9 813.6h0M598.9 797.2h0M687.7 897.0h0M694.8 804.2h0M594.1 965.3h0M619.6 788.9h0M647.1 824.9h0M584.6 949.4h0M695.3 939.0h0M548.7 810.9h0M613.8 798.2h0M685.7 1007.2h0M534.1 884.4h0M702.1 996.2h0M639.7 943.0h0M664.6 837.4h0M720.7 857.7h0M649.9 913.6h0M732.8 793.9h0M517.2 800.1h0M681.1 817.4h0M586.9 953.9h0M633.4 946.3h0M702.8 804.7h0M668.9 806.9h0M688.0 846.1h0M665.9 795.0h0M627.1 1002.1h0M600.5 965.0h0M636.3 1010.4h0M516.7 821.1h0M675.7 925.5h0M638.8 838.8h0M730.9 809.8h0M614.0 801.1h0M633.2 983.6h0M657.0 789.6h0M673.7 936.5h0M603.3 949.2h0M534.1 879.1h0M574.0 946.9h0M680.4 804.0h0M538.2 827.3h0M590.0 790.7h0M522.1 868.6h0M619.8 963.5h0M626.4 783.7h0M633.2 821.0h0M665.0 984.4h0M669.3 778.2h0M669.3 828.9h0M560.9 854.1h0M612.4 909.0h0M618.3 976.8h0M538.0 854.9h0M717.7 804.4h0M582.9 795.1h0M524.2 816.3h0M673.6 1007.8h0M555.4 894.1h0M544.8 838.0h0M564.0 816.1h0M529.0 881.6h0M694.7 1000.1h0M694.0 840.9h0M575.6 869.9h0M508.8 830.6h0M650.5 782.8h0M707.4 916.1h0M671.7 853.1h0M710.1 947.5h0M573.2 829.3h0M674.6 983.8h0M690.0 883.0h0M637.4 839.1h0M675.6 833.2h0M716.3 823.9h0M665.7 842.7h0M657.1 807.9h0M557.9 917.8h0M657.0 860.7h0M564.5 897.9h0M609.5 866.9h0M639.2 979.6h0M581.3 866.8h0M668.2 1012.8h0M676.9 929.2h0M494.6 803.1h0M644.7 800.0h0M637.1 859.9h0M704.6 1014.0h0M689.6 979.6h0M654.9 922.0h0M670.4 879.0h0M687.0 980.2h0M639.6 812.3h0M677.8 809.8h0M678.9 922.9h0M678.2 891.7h0M705.7 877.0h0M578.4 836.4h0M693.0 778.9h0M602.6 961.7h0M619.3 998.0h0M595.9 796.2h0M658.2 968.6h0M585.9 814.7h0M608.9 841.4h0M576.1 917.7h0M655.1 866.1h0M654.8 952.5h0M657.2 960.2h0M695.4 773.5h0M626.5 880.1h0M637.9 818.2h0M560.6 906.6h0M724.8 835.2h0M643.4 785.6h0M538.2 876.9h0M609.5 985.7h0M666.1 843.8h0M707.9 961.2h0M613.4 926.8h0M538.2 844.0h0M589.4 947.1h0M585.1 959.0h0M560.1 865.9h0M706.7 887.1h0M590.1 853.7h0M657.6 936.6h0M613.3 802.6h0M703.9 835.0h0M633.5 870.6h0M682.8 897.8h0M579.4 830.8h0M676.7 887.4h0M576.5 800.5h0M651.6 911.9h0M574.3 877.2h0M586.1 832.1h0M648.6 955.0h0M622.7 934.5h0M538.1 888.0h0M696.9 921.1h0M694.9 944.1h0M511.6 812.6h0M691.9 965.2h0M601.3 979.6h0M599.2 822.5h0M603.3 905.1h0M606.1 870.5h0M697.1 917.2h0M685.5 950.8h0M693.0 886.4h0M529.4 796.9h0M706.5 873.5h0M518.9 818.8h0M630.9 820.7h0M604.1 913.4h0M594.9 904.3h0M699.2 1002.1h0M545.4 850.0h0M686.1 962.7h0M677.8 879.8h0M595.2 886.6h0M586.5 946.2h0M602.8 804.9h0M636.1 859.8h0M724.7 776.7h0M564.1 942.3h0M679.4 843.6h0M714.5 833.5h0M626.6 881.0h0M586.7 929.4h0M705.6 796.8h0M633.6 962.3h0M705.6 816.8h0M604.3 943.2h0M659.6 781.5h0M577.9 955.6h0M666.8 1020.3h0M667.4 829.6h0M549.9 875.3h0M705.1 870.0h0M611.7 835.6h0M701.6 775.6h0M665.8 985.9h0M692.4 811.2h0M665.1 922.8h0M683.6 937.5h0M577.0 797.2h0M653.1 1020.0h0M683.3 888.8h0M600.7 972.6h0M563.0 799.3h0M605.6 879.9h0M633.1 924.8h0M578.1 901.2h0M641.1 858.5h0M683.6 1023.8h0M550.7 901.5h0M724.7 813.5h0M643.5 953.1h0M576.6 905.1h0M673.1 811.7h0M619.2 869.9h0M659.3 922.0h0M639.4 849.7h0M673.2 938.7h0M669.9 813.9h0M581.5 855.1h0M653.0 957.0h0M676.4 906.9h0M594.7 841.5h0M639.7 965.4h0M629.3 910.3h0M544.0 812.2h0M688.8 814.1h0M542.2 850.9h0M637.1 917.1h0M552.5 856.0h0M670.8 825.7h0M545.8 843.2h0M641.2 910.3h0M565.8 818.8h0M536.6 832.2h0M627.2 903.6h0M600.1 892.2h0M627.6 873.4h0M653.8 926.6h0M609.0 890.7h0M552.5 874.2h0M559.0 860.2h0M676.8 853.8h0M590.8 911.4h0M670.2 813.2h0M688.5 858.0h0M568.8 819.5h0M628.6 952.5h0M706.5 804.2h0M618.0 938.0h0M604.5 852.5h0M677.2 920.4h0M542.8 811.1h0M634.9 905.9h0M666.0 887.9h0M589.8 872.4h0M640.9 825.2h0M579.5 903.2h0M620.8 833.0h0M587.3 838.7h0M628.4 963.9h0M573.3 878.0h0M642.2 942.0h0M673.4 855.1h0M685.9 811.0h0M644.3 912.0h0M618.8 825.5h0M651.7 815.4h0M654.4 883.3h0M592.7 894.4h0M677.9 892.6h0M663.3 948.1h0M685.8 919.3h0M646.9 855.0h0M682.1 804.2h0M593.6 870.7h0M635.2 889.7h0M684.3 958.4h0M676.1 941.8h0M553.8 854.5h0M639.4 873.5h0M547.7 839.9h0M654.1 845.7h0M601.2 807.4h0M691.9 835.0h0M644.3 873.6h0M617.1 838.4h0M685.4 906.3h0M623.8 842.6h0M625.5 869.8h0M585.7 844.4h0M679.2 862.0h0M524.1 822.0h0M700.0 846.5h0M594.8 939.8h0M643.9 892.1h0M685.4 797.3h0M597.7 902.6h0M607.5 868.2h0M650.6 812.2h0M651.1 964.7h0M672.8 880.9h0M682.5 826.2h0M583.5 887.3h0M594.2 869.7h0M562.3 881.5h0M653.7 858.9h0M617.9 799.2h0M571.4 886.7h0M758.9 877.7h0M726.4 944.4h0M727.8 947.0h0M740.5 1016.0h0M766.4 975.1h0M729.5 1013.6h0M714.6 969.4h0M714.6 953.5h0M747.2 963.3h0M723.6 984.5h0M744.0 840.4h0M761.4 825.9h0M758.6 903.1h0M739.8 859.3h0M766.9 810.5h0M714.0 949.2h0M727.0 896.1h0M734.1 828.7h0M740.2 783.5h0M783.5 966.7h0M735.3 1015.2h0M727.2 884.0h0M748.8 869.9h0M763.6 826.4h0M714.0 1008.6h0M742.5 985.7h0M752.1 1013.1h0M741.9 879.5h0M744.1 808.3h0M751.8 853.6h0M724.1 932.6h0M745.6 880.3h0M748.5 859.4h0M774.3 974.7h0M746.6 982.7h0M746.3 803.5h0M725.7 853.2h0M752.7 809.7h0M760.2 1008.3h0M717.8 959.3h0M760.2 1010.8h0M753.0 922.5h0M759.6 1008.3h0M713.0 958.3h0M727.7 990.6h0M742.8 882.9h0M732.3 962.5h0M774.2 812.0h0M728.6 869.7h0M762.3 874.2h0M772.5 855.5h0M773.5 989.0h0M783.6 987.9h0M777.9 989.9h0M781.6 967.4h0M782.5 969.6h0M784.9 978.8h0M763.2 847.9h0M781.2 839.0h0M765.5 835.5h0M766.3 839.3h0M761.4 856.2h0M848.1 758.1h0M887.8 697.7h0M808.0 737.2h0M928.7 712.0h0M794.9 712.9h0M913.4 720.8h0M746.3 760.1h0M770.2 753.0h0M859.0 691.9h0M774.2 709.2h0M815.5 744.5h0M808.3 702.4h0M846.1 695.1h0M736.0 766.4h0M778.8 735.5h0M884.5 713.0h0M717.7 743.5h0M709.1 745.7h0M870.7 718.6h0M774.5 793.2h0M889.1 705.3h0M863.2 703.9h0M863.9 727.2h0M949.1 705.9h0M798.8 774.0h0M958.1 700.2h0M864.5 696.4h0M779.5 756.9h0M693.5 755.0h0M845.9 738.0h0M896.2 724.9h0M777.9 798.5h0M853.3 730.0h0M764.3 779.5h0M736.6 765.8h0M724.7 768.9h0M717.7 760.6h0M723.8 774.5h0M789.5 772.2h0M810.3 713.5h0M893.7 705.8h0M788.8 706.4h0M809.2 708.2h0M828.2 747.5h0M733.2 723.3h0M799.9 745.1h0M765.1 753.3h0M756.9 759.9h0M744.0 726.1h0M735.8 761.3h0M802.7 706.4h0M803.6 705.3h0M859.6 715.9h0M818.9 758.1h0M707.3 751.1h0M922.9 716.3h0M757.9 771.2h0M805.7 787.7h0M793.9 780.4h0M854.5 725.4h0M726.3 757.0h0M772.2 761.3h0M695.2 754.9h0M839.6 754.4h0M797.0 754.3h0M659.2 761.5h0M700.0 725.5h0M722.7 724.1h0M723.2 731.9h0M738.1 720.7h0M544.5 778.8h0M522.1 791.9h0M850.7 952.1h0M891.2 956.1h0M869.3 1003.3h0M876.0 991.3h0M880.0 990.0h0M882.7 987.3h0M888.0 984.7h0M898.7 976.7h0M894.7 971.3h0M944.8 965.5h0M964.8 949.2h0M688.7 1051.7h0M676.7 1023.3h0M733.3 1024.2h0M752.5 1020.0h0M704.2 1037.5h0M708.7 1042.5h0M712.0 1050.5h0M707.5 1059.2h0M706.3 1063.7h0M713.7 1064.7h0M737.0 1047.2h0M751.7 1060.0h0M748.3 1067.2h0M769.2 1065.8h0M729.2 1070.0h0M769.5 1092.0h0M760.8 1100.0h0M784.2 1098.0h0M753.3 1106.7h0M749.2 1115.5h0M761.3 1126.2h0M793.3 1129.2h0M811.7 1119.2h0M825.0 1079.2h0M973.3 1094.5h0M799.2 1170.0h0M787.2 1156.6h0M798.7 1171.5h0M788.2 1152.1h0M784.7 1186.8h0M824.9 1171.6h0M798.5 1146.4h0M817.6 1165.7h0M805.2 1174.1h0M791.7 1183.9h0M776.9 1147.1h0M825.0 1157.7h0M803.9 1164.5h0M810.2 1202.9h0M828.0 1189.9h0M802.4 1145.9h0M788.0 1159.3h0M824.1 1181.1h0M798.7 1191.7h0M811.4 1191.0h0M837.5 1175.5h0M800.3 1179.6h0M787.7 1186.4h0M801.6 1169.1h0M820.9 1157.8h0M807.1 1180.1h0M805.6 1141.5h0M823.6 1172.4h0M789.0 1170.1h0M783.2 1153.5h0M375.0 600.0h0M373.3 603.3h0M365.0 600.8h0M340.8 608.3h0M344.2 613.7h0M331.7 628.0h0M334.2 631.7h0M339.2 634.2h0M339.2 643.3h0M344.2 652.0h0M361.7 658.7h0M336.3 661.3h0M335.8 625.0h0M356.5 695.9h0M325.8 692.0h0M352.2 688.9h0M366.7 703.0h0M355.9 693.6h0M364.0 704.1h0M319.0 703.6h0M348.3 684.6h0M319.7 688.9h0M357.9 690.8h0M339.8 708.5h0M326.7 695.8h0M362.5 704.2h0M361.1 701.6h0M323.9 688.2h0M354.2 713.1h0M353.5 694.7h0M364.8 711.3h0M361.2 700.8h0M358.2 696.9h0M346.7 680.0h0M403.7 701.7h0M384.2 709.2h0M378.3 712.8h0M411.2 714.2h0M415.0 722.0h0M420.0 722.5h0M374.5 729.2h0M401.7 736.7h0M428.3 761.7h0M445.3 779.2h0M465.0 783.8h0M500.8 784.2h0M395.8 725.0h0M404.2 734.2h0M413.3 736.7h0M411.7 746.7h0M544.5 778.8h0M670.8 540.8h0M659.2 552.5h0M653.3 564.7h0M652.2 570.3h0M657.5 568.3h0M669.2 569.2h0M654.7 582.0h0M660.5 588.3h0M665.8 597.0h0M668.3 609.2h0M655.8 621.2h0M662.2 628.7h0M678.3 623.3h0M680.8 628.3h0M685.0 628.0h0M694.2 567.0h0M709.7 567.5h0M717.0 573.3h0M727.5 577.0h0M743.3 583.0h0M754.2 595.8h0M743.3 605.5h0M696.7 603.3h0M714.2 606.3h0M679.2 641.7h0M679.7 645.0h0M662.5 654.2h0M666.7 658.3h0M654.2 671.3h0M634.2 707.5h0M634.2 717.5h0M635.0 724.7h0M634.7 730.5h0M672.2 728.3h0M803.8 568.3h0M796.2 598.0h0M631.7 697.9h0M644.7 683.9h0M639.1 675.9h0M643.7 679.1h0M638.1 678.7h0M635.9 683.9h0M646.6 682.7h0M640.9 684.1h0M643.6 691.4h0M637.0 699.6h0M798.0 469.4h0M811.3 471.8h0M821.0 482.1h0M814.9 487.2h0M793.1 480.0h0M832.5 529.2h0M800.4 486.0h0M862.3 492.2h0M833.8 496.3h0M798.5 485.2h0M832.8 489.3h0M819.0 510.7h0M839.3 528.6h0M809.2 488.4h0M844.7 491.2h0M852.5 497.4h0M812.9 446.8h0M817.9 434.7h0M813.7 441.5h0M827.5 431.2h0M860.9 455.8h0M853.8 453.7h0M851.2 453.6h0M874.5 436.9h0M853.6 439.7h0M902.0 503.0h0M958.1 560.7h0M945.8 535.9h0M963.2 526.5h0M974.9 597.3h0M972.4 548.1h0M964.4 567.8h0M966.0 555.8h0M972.4 559.8h0M939.2 533.9h0M963.7 569.3h0M963.6 556.9h0M962.1 561.6h0M964.8 555.9h0M950.1 550.7h0M964.4 562.4h0M963.5 572.5h0M944.8 561.6h0M983.8 565.8h0M931.9 535.7h0M970.8 596.6h0M938.0 580.0h0M903.0 575.8h0M918.3 597.5h0M939.2 602.2h0M892.5 548.0h0M876.2 563.3h0M827.5 539.5h0M808.3 551.7h0M835.0 596.7h0M890.8 596.7h0M861.2 603.8h0M827.5 610.8h0M846.7 625.8h0M859.7 634.7h0M896.7 637.2h0M846.7 639.2h0M767.5 600.0h0M973.8 627.5h0M842.6 572.6h0M841.9 566.6h0M851.4 568.1h0M956.1 253.5h0M958.5 269.3h0M956.1 269.2h0M972.3 253.8h0M954.1 243.6h0M973.7 262.9h0M953.9 244.2h0M963.7 243.9h0M960.7 263.7h0M951.8 255.4h0M958.6 260.9h0M957.4 263.6h0M954.9 256.5h0M965.5 236.8h0M962.9 250.8h0M959.2 240.4h0M966.4 252.2h0M965.9 241.2h0M923.3 267.5h0M950.8 264.2h0M879.9 283.6h0M850.5 303.4h0M860.0 295.8h0M848.7 311.0h0M845.5 291.7h0M894.8 275.6h0M884.5 276.9h0M855.1 322.7h0M895.1 273.4h0M900.9 277.5h0M860.8 305.9h0M857.2 291.9h0M872.5 309.7h0M854.6 290.5h0M852.7 319.8h0M861.8 286.2h0M893.7 273.1h0M857.0 305.6h0M898.1 276.9h0M873.7 294.8h0M862.1 277.3h0M849.5 304.6h0M854.7 282.0h0M849.8 305.5h0M866.5 303.1h0M877.4 301.9h0M861.7 315.0h0M871.4 277.6h0M877.1 284.5h0M900.3 279.2h0M866.9 308.5h0M862.7 279.0h0M885.0 293.3h0M907.0 322.8h0M855.0 335.0h0M868.3 323.3h0M875.0 333.3h0M880.0 335.0h0M849.2 358.3h0M880.0 370.8h0M844.2 398.3h0M830.0 400.8h0M827.5 405.0h0M835.8 406.7h0M853.3 404.2h0M892.5 391.7h0M891.7 397.5h0M887.5 415.0h0M829.2 419.2h0M835.8 419.7h0M830.8 433.3h0M853.3 439.2h0M889.2 433.3h0M813.3 436.7h0M877.5 444.2h0M885.8 447.5h0M850.8 457.5h0M797.5 460.0h0M811.7 465.0h0M823.3 456.7h0M836.7 461.7h0M863.3 467.5h0M1706.2 305.7h0M1717.6 297.2h0M1557.8 328.9h0M1563.7 328.4h0M1564.6 337.4h0M1600.8 326.7h0M1611.6 327.2h0M1609.3 330.1h0M1608.2 348.8h0M1603.7 358.4h0M1605.4 363.5h0M1628.6 363.5h0M1670.0 352.7h0M1638.8 382.8h0M1667.7 394.7h0M1669.4 401.5h0M1675.1 417.3h0M1665.4 412.8h0M1671.7 406.0h0M1668.3 387.9h0M983.0 666.1h0M953.5 663.0h0M943.3 679.5h0M979.3 671.8h0M1009.2 670.8h0M945.8 663.2h0M980.6 670.5h0M979.8 649.0h0M969.8 678.6h0M982.1 660.9h0M968.4 651.2h0M990.6 667.7h0M982.8 687.1h0M932.2 659.6h0M949.0 683.0h0M1005.9 675.3h0M987.7 653.5h0M958.2 639.6h0M938.9 639.5h0M932.6 655.0h0M967.2 648.1h0M913.7 667.6h0M938.9 653.9h0M923.2 660.8h0M814.4 684.7h0M833.3 676.1h0M879.3 656.2h0M848.6 651.6h0M869.9 674.2h0M828.4 678.4h0M875.8 653.1h0M862.3 688.6h0M902.7 668.5h0M881.5 659.4h0M870.0 650.6h0M907.1 658.2h0M867.4 669.9h0M815.3 664.7h0M879.3 661.9h0M861.4 672.7h0M854.7 650.8h0M830.1 651.7h0M818.0 653.3h0M800.7 608.0h0M1110.8 1045.1h0M1110.4 1043.3h0M1115.1 1044.7h0M1112.2 1033.9h0M1120.9 1055.3h0M1112.2 1050.5h0M1112.8 1035.2h0M1113.3 1042.0h0M1120.7 1049.6h0M1111.1 1030.7h0M1114.4 1050.3h0M1125.3 1046.3h0M1146.4 1105.6h0M1119.3 1076.8h0M1129.8 1089.1h0M1123.6 1090.4h0M1147.3 1118.2h0M1131.2 1104.1h0M1132.1 1085.1h0M1147.1 1090.4h0M1137.3 1078.8h0M1118.0 1073.1h0M1127.5 1066.6h0M1139.7 1092.6h0M1127.9 1092.4h0M1123.1 1100.3h0M1148.5 1091.3h0M1119.3 1078.1h0M1132.6 1089.7h0M1143.3 1098.8h0M1151.2 1087.4h0M1153.2 1114.6h0M1134.2 1078.9h0M1120.3 1073.4h0M1144.6 1088.7h0M1148.5 1105.1h0M879.1 991.7h0M1132.1 893.1h0M1240.6 973.1h0M1146.4 1112.2h0M1148.6 1117.7h0M1142.0 1107.8h0" stroke="#02010a"/>
<path d="M1057.3 740.7h0M1046.7 751.7h0M1038.3 750.7h0M1027.3 742.7h0M1099.4 774.4h0M1092.3 780.1h0M1090.9 772.1h0M1099.4 767.7h0M1104.1 755.7h0M1096.0 771.1h0M1140.0 780.9h0M1140.6 802.8h0M1138.7 777.0h0M1097.1 787.7h0M1158.1 769.6h0M1156.6 812.9h0M1172.4 807.1h0M1178.7 806.2h0M1172.9 783.5h0M1186.2 798.7h0M1156.6 780.5h0M1173.9 780.1h0M1158.4 786.0h0M1151.3 778.7h0M1162.3 783.5h0M1170.3 780.0h0M1184.6 796.3h0M1158.8 786.5h0M1170.4 798.7h0M1161.7 782.3h0M1182.7 797.6h0M1188.6 788.9h0M1183.6 789.9h0M1195.9 799.3h0M1194.1 800.7h0M1200.0 802.3h0M1237.1 776.7h0M1241.9 778.2h0M1253.3 781.4h0M1257.1 783.3h0M1262.9 778.6h0M1262.5 787.7h0M1285.1 781.4h0M1266.7 780.5h0M1223.8 807.5h0M1232.4 814.8h0M1242.9 788.1h0M1237.1 799.5h0M1283.8 796.7h0M1282.9 804.9h0M1292.8 801.4h0M1293.3 810.4h0M1316.8 786.2h0M1243.9 811.6h0M1264.2 798.2h0M1258.1 811.9h0M1258.7 820.3h0M1258.1 827.6h0M1239.9 804.2h0M1267.7 811.6h0M1252.3 814.0h0M1250.5 824.6h0M1263.7 818.2h0M1156.7 810.0h0M1157.7 770.0h0M1093.3 784.0h0M1305.5 816.7h0M1359.1 837.5h0M1316.6 821.6h0M1283.5 819.9h0M1282.7 814.9h0M1335.0 833.8h0M1330.1 815.0h0M1356.8 825.7h0M1358.0 824.5h0M1287.0 812.9h0M1336.5 816.5h0M1290.7 823.4h0M1327.3 815.1h0M1321.8 822.0h0M1301.8 833.5h0M1378.1 829.3h0M1298.3 835.6h0M1297.6 815.7h0M1317.1 825.2h0M1330.0 831.7h0M1331.4 821.1h0M1300.1 836.4h0M1294.9 819.6h0M1284.4 816.3h0M1386.1 827.9h0M1366.7 832.0h0M1381.6 828.7h0M1310.6 818.9h0M1266.6 822.4h0M1383.7 822.4h0M1415.5 819.8h0M1406.5 837.6h0M1420.7 820.1h0M1417.6 814.3h0M1400.6 822.9h0M1433.1 817.4h0M1403.6 833.6h0M1417.3 815.8h0M1409.2 827.6h0M1397.4 831.9h0M1405.1 821.7h0M1390.0 836.0h0M1414.7 851.3h0M1394.0 851.3h0M1449.2 816.1h0M1441.4 795.9h0M1460.1 804.9h0M1445.9 795.8h0M1447.2 793.3h0M1455.4 804.3h0M1448.0 795.4h0M1438.6 811.2h0M1481.3 795.7h0M1508.7 789.1h0M1536.7 788.4h0M1509.1 807.3h0M1494.4 813.7h0M1486.0 813.3h0M1470.3 832.8h0M1488.6 853.8h0M1484.4 857.6h0M1480.4 833.6h0M1447.9 842.7h0M1477.1 824.5h0M1479.9 837.5h0M1437.7 845.3h0M1499.7 852.2h0M1462.2 827.4h0M1446.0 843.9h0M1492.6 849.0h0M1489.6 837.0h0M1486.9 827.4h0M1450.8 826.0h0M1480.5 847.9h0M1485.4 845.1h0M1480.7 854.3h0M1480.5 828.5h0M1455.5 835.0h0M1459.4 830.1h0M1464.9 851.8h0M1469.3 852.9h0M1438.8 845.2h0M1457.9 830.3h0M1440.1 836.8h0M1445.3 829.1h0M1486.3 855.2h0M1449.8 830.3h0M1488.7 835.5h0M1461.9 852.6h0M1485.5 838.7h0M1441.3 843.6h0M1462.4 850.2h0M1502.6 835.3h0M1475.9 850.6h0M1477.9 873.5h0M1450.5 868.8h0M1445.0 861.4h0M1462.2 873.5h0M1470.9 882.5h0M1463.8 872.9h0M1464.8 875.7h0M1454.0 878.1h0M1475.0 870.9h0M1441.2 861.5h0M1451.7 862.1h0M1451.4 864.6h0M1475.0 884.7h0M1474.9 871.1h0M1441.5 865.9h0M1486.0 865.3h0M1500.7 864.0h0M1509.1 860.7h0M1520.0 860.7h0M1539.3 852.0h0M1542.0 838.8h0M1534.4 838.1h0M1521.8 836.6h0M1517.1 839.0h0M1529.6 824.1h0M1540.1 838.7h0M1519.1 833.4h0M1528.8 825.2h0M1540.0 815.3h0M1551.3 808.0h0M1552.0 812.7h0M1554.0 823.3h0M1550.7 825.3h0M1556.7 844.7h0M1556.7 855.3h0M1582.0 838.0h0M1580.7 841.3h0M1587.3 852.0h0M1630.0 762.7h0M1627.3 770.7h0M1624.7 774.7h0M1621.3 777.3h0M1620.0 788.0h0M1623.3 792.7h0M1565.7 808.7h0M1579.3 813.3h0M1563.3 813.4h0M1580.1 812.1h0M1576.4 813.7h0M1572.1 817.6h0M1562.3 814.3h0M1583.3 802.5h0M1585.5 802.8h0M1588.1 806.6h0M1596.4 810.8h0M1626.0 827.8h0M1611.0 841.0h0M1640.2 810.7h0M1619.2 832.1h0M1630.0 836.5h0M1618.7 833.0h0M1602.8 868.6h0M1615.7 862.8h0M1647.8 799.5h0M1626.3 850.7h0M1619.3 825.9h0M1618.5 829.1h0M1628.7 842.3h0M1616.8 839.0h0M1604.0 866.6h0M1613.8 837.5h0M1625.6 813.0h0M1628.2 818.9h0M1617.3 811.5h0M1631.9 817.6h0M1649.9 817.1h0M1610.1 822.2h0M1641.3 817.2h0M1608.2 872.5h0M1604.3 839.2h0M1613.5 816.7h0M1636.6 805.7h0M1605.0 832.4h0M1605.2 852.4h0M1612.3 867.0h0M1611.5 844.9h0M1609.6 865.0h0M1604.7 837.7h0M1640.2 827.9h0M1633.9 841.8h0M1615.0 828.3h0M1634.2 806.9h0M1645.1 808.7h0M1617.2 846.5h0M1607.8 862.5h0M1611.9 831.7h0M1598.1 862.1h0M1643.3 820.0h0M1605.5 852.4h0M1555.0 862.9h0M1548.2 872.3h0M1570.6 859.7h0M1587.6 864.3h0M1545.1 875.1h0M1585.9 856.5h0M1593.4 872.2h0M1564.1 876.8h0M1585.8 858.5h0M1569.7 872.6h0M1545.9 867.4h0M1590.2 875.7h0M1560.7 866.7h0M1560.8 877.8h0M1558.2 868.8h0M1580.0 733.3h0M1578.3 745.0h0M1579.3 771.0h0M1561.7 722.3h0M1130.0 852.0h0M1136.7 891.3h0M1131.7 893.3h0M1125.0 900.7h0M1139.3 915.0h0M1151.7 930.0h0M1110.3 920.0h0M1240.7 960.7h0M1241.7 963.3h0M1233.3 973.3h0M1076.7 999.3h0M1096.3 1002.0h0M633.8 918.0h0M651.8 930.4h0M552.7 909.6h0M651.3 976.4h0M611.2 918.1h0M720.8 813.2h0M671.7 787.5h0M705.8 786.0h0M643.9 829.8h0M628.8 811.8h0M566.6 899.5h0M712.8 813.1h0M540.5 884.8h0M659.1 809.4h0M571.3 827.4h0M613.0 878.8h0M650.7 915.1h0M639.7 870.5h0M684.9 1012.3h0M675.0 997.6h0M644.5 968.2h0M564.2 937.7h0M717.5 896.2h0M697.5 988.1h0M616.2 890.7h0M572.1 872.8h0M653.9 857.9h0M579.2 910.2h0M673.5 877.1h0M624.7 975.1h0M693.5 1002.5h0M518.0 859.2h0M577.7 893.8h0M626.6 983.5h0M610.2 949.7h0M656.4 848.6h0M661.8 781.1h0M617.5 847.5h0M649.0 805.2h0M522.8 815.3h0M686.7 922.1h0M582.8 908.2h0M671.8 951.0h0M537.4 858.3h0M646.3 823.1h0M691.5 836.9h0M614.3 870.5h0M652.8 938.5h0M670.5 970.0h0M549.7 824.4h0M717.5 890.1h0M683.5 853.9h0M602.9 919.0h0M628.0 864.3h0M657.2 880.1h0M674.0 861.1h0M616.2 948.5h0M694.5 943.0h0M640.0 843.4h0M691.0 780.6h0M628.6 828.1h0M669.3 926.0h0M598.8 861.1h0M553.8 821.8h0M685.4 893.7h0M580.0 797.7h0M634.5 803.7h0M633.0 939.7h0M664.8 887.2h0M673.8 780.2h0M689.8 780.2h0M723.2 828.6h0M646.9 1015.1h0M642.0 928.5h0M688.2 1013.4h0M679.2 993.2h0M681.3 976.7h0M535.5 846.6h0M660.6 825.8h0M659.7 842.9h0M527.2 808.3h0M685.9 837.1h0M575.7 909.5h0M538.5 821.7h0M575.5 941.0h0M603.3 1001.9h0M595.1 801.5h0M605.9 818.0h0M650.2 808.7h0M673.5 998.6h0M598.7 919.8h0M542.8 802.1h0M707.5 882.0h0M618.3 996.4h0M689.0 772.6h0M604.2 950.8h0M665.3 942.7h0M685.3 832.1h0M630.8 864.8h0M664.1 886.6h0M698.4 941.2h0M645.8 958.0h0M540.1 840.7h0M665.8 1033.3h0M589.1 897.7h0M662.1 840.1h0M569.3 901.1h0M689.6 795.1h0M543.0 838.9h0M590.7 912.2h0M581.1 898.9h0M681.3 869.1h0M646.4 844.3h0M676.2 975.5h0M594.3 792.9h0M498.5 813.7h0M568.3 802.9h0M716.3 896.1h0M513.9 821.6h0M692.6 860.4h0M674.6 861.1h0M572.2 870.9h0M677.5 835.2h0M701.6 1004.4h0M684.6 978.6h0M707.3 827.1h0M645.2 1008.6h0M661.9 803.3h0M694.4 980.4h0M579.5 959.3h0M671.3 819.8h0M622.9 903.4h0M626.6 982.1h0M707.0 866.5h0M721.5 825.3h0M633.0 962.2h0M675.8 959.9h0M699.1 1016.7h0M595.7 793.0h0M600.2 940.3h0M680.3 835.4h0M587.2 934.9h0M559.2 813.2h0M530.5 854.2h0M605.4 887.3h0M572.5 883.4h0M582.4 810.6h0M653.2 966.0h0M647.0 897.2h0M718.6 913.7h0M690.5 809.2h0M582.2 837.6h0M525.8 818.0h0M672.6 785.7h0M626.6 808.0h0M678.0 839.9h0M704.1 900.3h0M609.1 962.5h0M552.6 868.8h0M629.4 985.6h0M621.4 967.4h0M604.9 793.2h0M702.5 1008.2h0M670.5 861.5h0M681.5 938.2h0M540.6 893.6h0M533.5 803.1h0M659.1 866.6h0M734.2 787.2h0M533.0 817.8h0M723.6 841.3h0M710.1 907.5h0M624.1 865.7h0M517.0 812.2h0M611.4 923.2h0M604.8 873.3h0M520.4 851.4h0M664.6 884.4h0M584.1 822.9h0M659.9 884.9h0M720.4 796.6h0M611.3 900.3h0M662.3 924.2h0M666.9 983.6h0M627.9 822.4h0M568.2 869.7h0M671.1 826.8h0M685.0 944.6h0M661.2 842.7h0M539.9 859.8h0M576.5 842.0h0M607.3 959.9h0M712.8 883.9h0M715.9 887.2h0M678.9 858.8h0M556.8 823.4h0M691.8 841.8h0M700.1 916.2h0M507.3 839.3h0M593.0 905.4h0M567.7 934.0h0M565.6 857.6h0M700.8 860.3h0M653.7 889.0h0M658.3 950.2h0M609.9 896.0h0M531.6 816.1h0M641.1 805.9h0M676.8 867.1h0M712.7 887.3h0M674.7 991.7h0M576.2 906.0h0M534.8 862.6h0M685.7 822.8h0M692.3 795.2h0M688.7 837.7h0M587.7 905.9h0M671.6 797.0h0M509.8 829.6h0M626.3 893.0h0M630.2 835.4h0M645.2 994.8h0M670.3 824.6h0M647.9 945.1h0M559.9 915.6h0M671.1 788.2h0M527.0 875.3h0M611.0 880.6h0M697.6 874.8h0M533.1 887.5h0M519.5 829.3h0M558.2 843.3h0M689.4 902.2h0M692.8 933.2h0M625.8 791.2h0M652.7 797.9h0M582.2 883.3h0M701.6 857.8h0M701.8 850.7h0M539.7 837.5h0M661.8 916.6h0M559.7 901.1h0M583.2 942.2h0M532.9 859.5h0M698.6 956.1h0M671.2 983.4h0M624.3 963.8h0M579.6 830.4h0M638.3 856.8h0M580.8 862.3h0M690.0 816.7h0M626.0 976.4h0M699.7 875.9h0M520.7 805.7h0M689.5 905.3h0M694.5 827.8h0M578.0 880.3h0M696.0 916.3h0M639.8 829.1h0M701.7 858.1h0M637.4 892.5h0M677.3 917.0h0M617.7 835.1h0M666.6 964.4h0M662.1 833.6h0M659.6 898.3h0M534.5 809.5h0M659.8 883.3h0M614.9 896.1h0M591.6 804.2h0M675.1 946.8h0M569.2 898.5h0M592.3 810.0h0M621.2 823.0h0M687.8 913.8h0M632.0 890.2h0M565.5 901.3h0M620.3 854.8h0M699.2 865.2h0M665.7 891.9h0M663.9 831.7h0M612.6 871.0h0M611.6 804.5h0M585.9 884.7h0M613.4 939.9h0M641.5 902.3h0M689.2 832.9h0M571.3 882.2h0M688.8 880.6h0M608.7 811.5h0M657.0 886.3h0M656.0 891.7h0M691.3 817.2h0M688.3 875.5h0M555.2 843.5h0M695.2 833.0h0M686.1 833.8h0M655.7 797.7h0M617.7 892.0h0M664.3 879.6h0M542.4 831.6h0M638.2 951.5h0M704.2 840.3h0M643.6 806.2h0M540.2 838.2h0M609.6 924.4h0M568.5 886.5h0M678.4 959.7h0M697.6 837.6h0M608.8 887.9h0M616.4 880.1h0M643.5 884.7h0M582.8 819.2h0M607.8 800.0h0M691.3 934.7h0M690.8 883.3h0M581.8 915.0h0M644.6 803.8h0M577.9 807.4h0M612.1 953.6h0M667.1 800.3h0M691.9 913.4h0M568.2 868.0h0M612.7 893.1h0M621.2 884.2h0M569.0 833.0h0M664.4 859.2h0M700.1 911.9h0M667.4 912.2h0M644.0 805.2h0M640.3 802.8h0M626.2 929.2h0M669.7 968.2h0M668.0 845.6h0M599.8 932.3h0M602.4 869.4h0M556.0 816.1h0M656.6 798.7h0M695.6 847.4h0M606.4 895.3h0M566.5 825.5h0M629.5 838.2h0M559.7 815.3h0M650.1 886.4h0M678.7 795.9h0M619.0 944.0h0M558.5 825.9h0M654.1 884.1h0M698.1 864.3h0M634.2 894.5h0M659.2 821.7h0M643.7 905.7h0M682.4 799.2h0M561.0 867.1h0M636.9 924.2h0M689.3 945.4h0M562.6 816.3h0M616.1 892.1h0M686.6 953.0h0M773.7 961.0h0M718.4 1012.6h0M766.6 821.6h0M750.8 797.7h0M737.2 973.5h0M750.2 971.8h0M747.9 958.7h0M755.4 936.5h0M752.3 876.2h0M756.7 907.6h0M760.1 988.5h0M717.2 974.3h0M748.7 905.5h0M763.2 924.6h0M740.3 1017.5h0M773.9 1006.3h0M720.6 996.3h0M778.4 950.6h0M751.8 825.9h0M744.5 1011.3h0M749.0 854.4h0M742.8 808.3h0M751.4 842.3h0M756.1 959.6h0M735.3 966.9h0M763.6 830.3h0M768.8 858.0h0M786.3 952.5h0M749.0 905.9h0M724.9 905.5h0M776.0 974.6h0M773.9 983.7h0M781.3 985.8h0M774.9 957.0h0M776.5 976.0h0M779.2 998.2h0M769.7 988.4h0M778.6 978.4h0M764.8 835.1h0M781.5 842.2h0M773.5 824.2h0M799.3 796.5h0M942.5 705.5h0M787.7 765.1h0M798.8 769.7h0M823.1 723.3h0M724.8 765.9h0M890.9 716.0h0M772.5 794.7h0M729.5 744.0h0M783.7 699.1h0M720.4 753.4h0M669.2 770.7h0M700.9 765.5h0M879.3 713.3h0M835.2 740.5h0M965.9 696.4h0M775.0 733.3h0M896.6 711.2h0M817.6 752.1h0M946.0 701.2h0M802.3 795.5h0M811.3 773.7h0M798.4 716.4h0M832.2 696.6h0M850.8 732.8h0M777.6 771.1h0M748.2 774.2h0M756.6 732.8h0M695.6 757.4h0M872.7 720.2h0M823.8 698.1h0M840.9 730.6h0M848.5 735.9h0M774.7 744.7h0M785.1 791.7h0M785.7 769.8h0M785.4 801.8h0M933.5 692.5h0M796.9 719.4h0M867.2 731.6h0M805.4 786.5h0M829.3 745.3h0M920.8 705.4h0M842.2 728.8h0M667.1 772.6h0M861.3 718.2h0M792.5 782.2h0M724.0 753.2h0M880.9 729.3h0M904.2 694.8h0M743.4 780.9h0M747.6 773.7h0M923.9 693.8h0M739.7 764.4h0M823.4 715.0h0M844.6 706.5h0M786.4 773.6h0M809.3 743.2h0M714.6 755.7h0M809.3 701.0h0M733.0 720.4h0M875.7 710.3h0M844.9 695.1h0M922.6 703.5h0M847.6 741.0h0M715.6 746.4h0M795.3 793.5h0M763.1 712.6h0M863.0 729.6h0M767.9 715.3h0M820.3 762.6h0M845.4 738.6h0M791.6 774.0h0M834.9 731.2h0M600.0 769.2h0M659.2 768.1h0M672.5 717.5h0M706.7 725.5h0M571.2 786.5h0M589.3 783.9h0M500.8 784.1h0M858.1 970.5h0M920.0 966.0h0M921.9 989.2h0M968.0 940.7h0M976.0 944.7h0M850.1 1054.5h0M837.9 1068.1h0M824.8 1079.3h0M663.3 1030.0h0M676.7 1030.0h0M666.7 1023.3h0M686.7 1026.7h0M741.7 1023.3h0M705.8 1055.0h0M736.7 1034.7h0M729.2 1035.8h0M720.0 1051.3h0M748.3 1051.7h0M730.8 1073.0h0M740.0 1076.2h0M744.2 1091.3h0M780.8 1098.3h0M775.0 1107.5h0M783.3 1106.7h0M752.5 1116.3h0M766.7 1118.3h0M783.7 1128.8h0M796.7 1130.8h0M763.3 1113.3h0M753.3 1110.8h0M808.3 1087.2h0M817.5 1102.8h0M806.7 1118.0h0M809.2 1118.3h0M820.5 1069.5h0M838.3 1068.3h0M955.8 1087.2h0M807.3 1167.7h0M795.8 1190.5h0M803.1 1216.6h0M804.4 1189.8h0M787.3 1188.3h0M826.5 1151.0h0M797.4 1181.9h0M797.5 1196.0h0M810.4 1149.3h0M784.3 1180.8h0M806.2 1192.0h0M795.9 1159.1h0M803.6 1150.5h0M821.6 1181.4h0M830.5 1180.1h0M819.8 1170.1h0M788.3 1163.7h0M818.0 1152.4h0M815.2 1201.1h0M792.4 1175.1h0M797.8 1189.3h0M829.5 1154.7h0M776.9 1146.9h0M792.2 1180.1h0M809.5 1167.5h0M792.3 1179.5h0M820.7 1178.6h0M793.7 1174.9h0M825.3 1197.0h0M818.1 1150.2h0M810.5 1207.7h0M799.3 1211.4h0M818.6 1172.3h0M820.6 1159.1h0M801.4 1193.0h0M797.8 1160.2h0M815.6 1151.0h0M823.3 1183.3h0M821.8 1186.6h0M790.2 1169.0h0M829.1 1190.4h0M359.2 596.3h0M350.0 601.7h0M337.5 615.8h0M333.3 621.7h0M338.3 648.3h0M345.8 662.5h0M333.3 671.3h0M338.3 673.7h0M340.0 613.7h0M341.7 610.8h0M353.3 610.0h0M371.7 601.7h0M337.5 645.8h0M340.8 650.0h0M363.6 705.4h0M317.3 690.7h0M361.3 686.1h0M359.0 706.8h0M365.7 699.2h0M350.2 680.5h0M347.8 703.1h0M329.1 706.3h0M359.4 688.1h0M325.6 701.4h0M362.2 693.3h0M327.3 698.9h0M341.9 698.1h0M358.0 702.9h0M363.9 696.0h0M362.8 701.3h0M361.3 695.4h0M334.2 679.2h0M397.5 698.8h0M393.3 722.5h0M436.7 717.5h0M409.2 726.7h0M393.3 738.3h0M408.3 749.7h0M412.5 757.5h0M427.5 758.3h0M443.3 771.7h0M452.8 780.5h0M470.0 776.7h0M467.5 780.3h0M482.2 773.0h0M475.0 788.3h0M480.0 787.5h0M400.0 730.0h0M403.3 740.0h0M416.7 740.0h0M600.8 769.2h0M571.7 786.7h0M541.2 791.7h0M550.8 793.3h0M576.2 799.2h0M626.3 782.0h0M638.3 529.2h0M641.7 522.5h0M670.0 535.3h0M672.8 581.3h0M663.3 604.2h0M676.7 610.3h0M671.7 613.0h0M676.7 622.5h0M680.0 625.0h0M675.0 626.7h0M679.2 629.2h0M690.0 549.2h0M769.2 594.7h0M762.8 614.2h0M699.2 592.5h0M688.3 636.2h0M653.3 655.8h0M649.2 666.7h0M660.5 672.5h0M630.0 712.5h0M639.1 684.2h0M633.2 696.2h0M644.0 687.1h0M634.1 693.5h0M642.2 685.1h0M644.3 683.3h0M635.1 701.5h0M640.4 688.0h0M848.6 497.0h0M839.7 493.5h0M790.5 477.9h0M838.3 471.5h0M823.4 526.1h0M843.5 519.0h0M822.4 495.9h0M822.5 485.0h0M794.3 480.6h0M816.3 515.0h0M839.2 525.1h0M815.2 490.4h0M804.5 456.1h0M806.3 442.8h0M816.1 420.7h0M816.9 435.2h0M809.7 425.2h0M829.1 461.9h0M817.6 466.3h0M867.2 450.7h0M875.8 452.8h0M860.9 465.1h0M871.1 430.6h0M869.0 442.6h0M866.7 502.8h0M951.3 471.3h0M973.7 589.5h0M961.4 564.4h0M951.9 542.0h0M968.1 553.8h0M965.7 563.4h0M956.2 527.8h0M973.9 546.7h0M967.7 585.4h0M952.1 566.6h0M952.7 555.9h0M971.2 556.5h0M960.0 567.9h0M953.5 556.4h0M935.4 541.0h0M914.5 570.0h0M926.7 595.0h0M904.2 530.0h0M901.3 540.8h0M898.3 550.5h0M854.2 553.0h0M803.7 568.3h0M835.8 558.3h0M839.2 564.2h0M879.2 585.0h0M831.7 601.7h0M865.0 607.5h0M872.2 610.5h0M865.3 643.7h0M843.3 646.3h0M796.3 598.0h0M800.8 608.0h0M763.0 614.2h0M854.4 572.2h0M848.3 567.0h0M836.0 574.0h0M848.7 576.8h0M955.6 263.8h0M980.3 257.8h0M976.9 257.4h0M977.1 265.1h0M957.8 252.6h0M972.8 268.6h0M960.7 258.3h0M974.9 259.8h0M960.0 250.2h0M964.0 242.9h0M963.6 267.6h0M937.5 259.5h0M940.8 272.5h0M953.3 251.7h0M872.3 298.0h0M874.8 280.1h0M882.8 279.9h0M881.6 283.2h0M847.3 305.1h0M877.7 276.2h0M877.6 299.0h0M857.9 290.4h0M889.0 278.0h0M872.3 299.5h0M854.6 281.2h0M846.4 296.2h0M847.1 289.7h0M872.4 292.2h0M869.9 304.4h0M874.8 272.0h0M852.9 286.3h0M886.9 277.1h0M867.1 282.7h0M868.3 302.8h0M873.6 272.4h0M904.8 280.6h0M894.3 278.4h0M883.2 280.6h0M856.9 283.7h0M858.9 301.0h0M869.1 300.9h0M849.5 319.6h0M897.5 313.7h0M855.0 330.0h0M858.3 330.8h0M850.0 334.2h0M849.2 338.0h0M875.8 322.5h0M876.7 330.0h0M861.7 353.8h0M875.8 348.3h0M878.3 364.2h0M860.0 372.5h0M890.8 375.8h0M859.2 380.0h0M837.5 389.7h0M850.0 392.5h0M856.7 395.8h0M838.3 401.7h0M843.3 405.8h0M842.5 415.0h0M886.7 385.0h0M891.3 402.5h0M877.5 412.2h0M895.0 413.3h0M880.0 429.2h0M813.3 444.2h0M835.8 443.3h0M849.2 449.7h0M856.7 451.7h0M869.2 458.3h0M806.7 458.3h0M1701.1 307.4h0M1715.9 295.5h0M1598.6 334.0h0M1600.3 338.0h0M1599.7 340.8h0M1624.1 348.2h0M1626.9 353.9h0M1604.8 328.9h0M1608.2 332.9h0M1612.2 333.5h0M1595.7 367.5h0M1617.8 360.1h0M1602.5 360.7h0M1641.1 345.9h0M1654.7 360.7h0M1682.7 331.8h0M1641.6 373.1h0M1660.9 369.7h0M1664.9 376.0h0M1651.8 378.8h0M1645.6 385.0h0M1665.4 385.6h0M1666.0 391.3h0M1636.5 399.2h0M1663.7 400.3h0M1663.7 383.3h0M1666.6 398.1h0M1672.8 383.3h0M1006.6 661.0h0M990.9 687.1h0M1001.5 663.3h0M958.0 683.5h0M994.2 676.4h0M941.3 653.6h0M948.2 650.8h0M931.0 662.0h0M925.2 652.7h0M916.0 657.5h0M948.4 684.5h0M931.5 678.1h0M930.5 680.4h0M1002.1 663.2h0M990.7 674.3h0M987.0 673.3h0M942.2 670.7h0M913.3 671.2h0M938.1 665.0h0M960.3 683.9h0M980.6 658.8h0M970.9 646.3h0M932.1 680.4h0M982.7 677.6h0M971.9 644.3h0M925.4 646.9h0M951.7 636.4h0M935.5 670.7h0M909.0 673.0h0M814.5 684.6h0M820.1 675.6h0M853.5 655.1h0M836.4 665.2h0M831.5 674.5h0M853.6 670.2h0M853.9 666.7h0M816.2 689.1h0M855.9 658.3h0M905.3 656.6h0M898.8 662.7h0M819.7 669.9h0M838.9 652.2h0M821.2 670.2h0M860.2 659.4h0M845.4 657.5h0M815.5 681.0h0M893.6 660.3h0M816.1 649.9h0M862.5 674.4h0M813.6 680.3h0M888.4 649.9h0M881.3 663.8h0M918.7 684.5h0M816.5 661.6h0M823.1 671.6h0M875.7 672.1h0M804.7 626.0h0M822.7 630.4h0M832.0 643.7h0M1118.6 1055.8h0M1110.6 1032.6h0M1120.5 1056.6h0M1112.2 1036.3h0M1107.2 1036.5h0M1110.8 1036.7h0M1124.0 1039.5h0M1132.5 1057.8h0M1123.0 1065.0h0M1129.1 1092.9h0M1122.8 1070.0h0M1122.2 1066.5h0M1135.3 1094.7h0M1123.8 1089.6h0M1143.7 1089.4h0M1122.0 1087.7h0M1142.2 1098.1h0M1140.3 1116.1h0M1127.8 1097.3h0M1119.6 1076.0h0M1135.2 1098.5h0M1136.4 1094.6h0M1128.8 1068.3h0M1151.7 1110.6h0M1128.7 1079.6h0M1140.1 1090.6h0M1154.7 1113.2h0M1140.9 1112.4h0M1126.7 1097.5h0M1124.9 1079.6h0M1124.8 1073.7h0M1134.7 1084.9h0M1141.9 1102.9h0M1123.4 1085.0h0M1133.6 1099.9h0M1136.7 1101.5h0M875.9 989.5h0M872.6 993.9h0M900.0 976.4h0M1130.0 903.7h0M1144.2 920.5h0M1153.0 931.5h0M1232.9 964.3h0M1235.1 976.4h0M1150.8 1110.0h0" stroke="#000004"/>
<path d="M1035.0 741.7h0M1092.0 756.3h0M1095.3 778.8h0M1129.5 812.9h0M1159.6 781.4h0M1156.2 790.4h0M1276.9 814.6h0M1361.0 836.6h0M1329.9 828.3h0M1383.1 837.3h0M1312.2 820.9h0M1361.1 820.2h0M1451.1 840.0h0M1528.0 851.1h0M1462.7 865.3h0M1578.0 824.7h0M1571.3 854.0h0M1593.3 856.0h0M1619.3 849.3h0M1626.7 806.2h0M1602.7 870.7h0M1577.2 863.7h0M1574.8 877.8h0M1578.8 864.0h0M1591.5 869.8h0M1575.6 863.5h0M1645.7 724.3h0M1579.0 739.0h0M1025.7 938.7h0M675.8 943.0h0M627.4 879.3h0M658.4 929.4h0M672.9 903.5h0M634.7 891.2h0M619.9 905.1h0M503.0 835.3h0M735.1 785.2h0M725.6 840.8h0M683.2 895.7h0M612.7 825.8h0M655.6 1018.1h0M558.5 862.9h0M619.0 798.0h0M648.1 927.6h0M509.1 836.2h0M602.9 967.5h0M714.6 922.1h0M732.5 822.3h0M667.1 965.7h0M730.4 798.5h0M679.5 931.7h0M646.2 1006.6h0M634.4 885.3h0M720.9 793.9h0M704.4 872.9h0M562.7 870.4h0M656.7 939.4h0M671.7 777.7h0M640.0 999.9h0M700.2 995.2h0M687.3 938.5h0M578.4 811.0h0M653.3 823.7h0M681.9 890.8h0M554.8 825.6h0M673.4 917.5h0M600.4 818.5h0M735.6 904.0h0M720.1 990.8h0M788.7 771.1h0M748.2 737.3h0M739.8 735.5h0M830.9 695.4h0M821.6 757.3h0M906.8 722.1h0M749.8 737.1h0M887.8 715.2h0M851.9 733.2h0M693.8 750.9h0M780.4 717.3h0M850.7 1002.8h0M870.7 984.7h0M909.3 970.5h0M779.2 1074.0h0M682.5 1037.5h0M680.8 1042.0h0M733.3 1079.2h0M779.5 1073.8h0M757.5 1119.7h0M796.7 1122.0h0M771.7 1124.2h0M803.0 1215.3h0M790.7 1189.8h0M801.9 1185.6h0M787.0 1150.8h0M357.5 675.0h0M344.2 692.5h0M398.8 732.5h0M421.7 737.2h0M643.3 767.2h0M651.3 524.2h0M663.0 533.7h0M700.8 560.0h0M740.0 586.7h0M680.0 578.3h0M648.3 670.8h0M828.0 498.8h0M837.5 483.9h0M805.7 483.0h0M803.8 471.5h0M830.4 519.9h0M846.1 490.7h0M857.8 478.7h0M968.7 552.3h0M956.1 545.9h0M956.0 538.8h0M973.9 597.0h0M930.0 584.2h0M893.3 535.3h0M906.7 538.0h0M909.2 543.7h0M930.0 530.3h0M832.2 560.5h0M853.3 593.8h0M875.8 595.8h0M850.5 640.3h0M773.0 595.0h0M972.5 255.5h0M960.0 262.5h0M942.5 258.3h0M863.3 277.2h0M878.3 311.3h0M914.7 317.2h0M885.8 377.5h0M843.3 385.0h0M877.5 387.5h0M873.8 438.8h0M819.2 444.2h0M864.7 447.0h0M1711.3 299.2h0M1569.1 331.8h0M1579.9 332.3h0M1618.4 327.8h0M1613.9 341.4h0M1619.5 356.7h0M1647.9 352.7h0M1632.6 356.1h0M1641.6 359.5h0M1643.9 369.7h0M1636.0 385.6h0M1658.1 402.0h0M1677.3 405.4h0M1667.7 410.5h0M1677.3 410.5h0M1669.4 418.5h0M952.4 665.0h0M963.0 644.4h0M930.0 670.3h0M940.0 659.1h0M974.3 659.3h0M963.1 661.8h0M969.1 663.0h0M973.8 672.6h0M977.6 648.9h0M954.7 667.9h0M836.7 687.6h0M888.3 648.5h0M841.5 653.4h0" stroke="#AE347B"/>
<path d="M1040.0 748.3h0M1070.7 775.7h0M1086.1 769.6h0M1095.4 781.3h0M1092.5 780.9h0M1094.6 783.0h0M1179.0 797.6h0M1349.1 837.4h0M1328.4 830.0h0M1377.4 834.4h0M1398.0 822.0h0M1429.1 818.4h0M1425.3 838.0h0M1520.0 851.1h0M1472.0 883.3h0M1527.1 839.1h0M1568.9 804.7h0M1579.3 816.7h0M1568.0 821.6h0M1619.3 845.3h0M1615.7 810.3h0M1644.4 811.3h0M1642.1 803.4h0M1616.7 810.5h0M1609.3 820.7h0M1606.0 862.0h0M1610.7 870.0h0M1562.8 878.2h0M1584.2 871.1h0M1638.3 751.7h0M687.0 953.9h0M667.6 876.5h0M665.7 984.0h0M660.0 831.1h0M715.6 805.6h0M584.6 906.6h0M599.1 878.6h0M676.8 836.3h0M596.3 964.2h0M610.4 931.3h0M527.5 830.5h0M599.3 830.3h0M637.1 996.6h0M525.7 872.2h0M717.1 926.4h0M697.5 797.1h0M698.1 890.7h0M693.9 898.7h0M671.3 945.5h0M656.0 1024.1h0M605.4 787.4h0M600.6 869.1h0M636.3 800.9h0M619.4 958.0h0M691.0 943.4h0M662.5 830.5h0M705.7 812.9h0M630.2 851.3h0M648.6 854.2h0M669.0 918.4h0M652.7 902.7h0M703.7 843.0h0M704.3 827.7h0M541.2 818.7h0M760.8 876.2h0M757.6 860.3h0M756.5 946.7h0M780.2 974.8h0M783.5 777.1h0M968.5 691.0h0M781.2 768.6h0M732.5 731.6h0M826.4 696.1h0M818.3 709.2h0M863.0 723.3h0M734.7 751.1h0M790.6 744.6h0M721.2 753.6h0M810.4 776.9h0M764.7 761.0h0M901.3 966.0h0M914.1 971.9h0M938.7 961.2h0M828.0 1072.7h0M693.0 1028.0h0M688.3 1033.0h0M685.0 1040.0h0M708.3 1033.3h0M732.0 1033.7h0M737.5 1083.8h0M746.7 1085.5h0M758.7 1090.8h0M788.3 1118.3h0M828.3 1072.5h0M965.5 1088.0h0M970.3 1092.0h0M776.7 1143.3h0M816.8 1186.3h0M826.1 1186.4h0M417.2 744.7h0M421.3 754.2h0M473.7 795.3h0M619.2 730.5h0M648.3 534.2h0M653.3 532.5h0M658.3 533.0h0M669.7 538.8h0M661.7 548.3h0M675.0 547.5h0M675.3 555.0h0M773.0 595.0h0M687.5 620.8h0M619.2 730.5h0M828.2 530.4h0M847.4 511.4h0M799.6 471.7h0M848.2 514.5h0M838.4 487.0h0M815.0 440.5h0M853.0 512.2h0M955.0 466.3h0M959.7 461.7h0M977.4 593.5h0M970.6 544.1h0M938.2 537.9h0M956.1 539.2h0M963.0 558.4h0M984.4 575.5h0M961.9 568.5h0M975.1 576.4h0M940.4 546.0h0M954.3 560.6h0M932.5 582.5h0M913.8 573.3h0M885.0 540.8h0M866.7 562.2h0M877.5 588.7h0M855.0 619.2h0M860.0 620.8h0M893.3 620.5h0M955.0 268.3h0M942.2 268.3h0M868.0 294.2h0M894.2 293.3h0M896.2 298.0h0M856.2 339.2h0M863.3 330.8h0M881.3 356.7h0M851.7 373.0h0M846.3 403.3h0M858.0 410.8h0M837.5 425.8h0M1571.9 332.3h0M1582.7 332.7h0M1609.9 339.1h0M1630.3 347.6h0M1642.2 353.9h0M1638.8 356.1h0M1666.0 405.4h0M984.1 655.4h0M926.9 676.2h0M980.2 645.9h0M947.9 679.5h0M984.5 653.7h0M920.9 682.9h0M1008.4 667.3h0M917.2 679.3h0M922.2 645.4h0M923.2 654.7h0M854.6 662.0h0M867.2 663.7h0M908.3 681.6h0M884.0 689.9h0" stroke="#B63679"/>
<path d="M1095.7 753.6h0M1168.0 793.4h0M1194.3 802.8h0M1202.3 799.0h0M1403.3 829.1h0M1407.3 828.7h0M1474.7 874.7h0M1449.1 868.3h0M1570.7 841.1h0M1592.7 842.4h0M1626.7 841.1h0M1642.0 795.6h0M1631.0 825.5h0M1644.5 823.1h0M1629.3 820.4h0M1572.3 865.0h0M1589.6 868.7h0M1570.7 861.5h0M1545.6 872.1h0M1179.3 940.0h0M683.8 1000.2h0M688.6 972.3h0M685.9 849.5h0M698.5 860.6h0M571.4 819.5h0M666.5 833.9h0M603.3 807.8h0M709.5 817.9h0M617.2 833.9h0M575.7 909.7h0M660.6 933.9h0M679.9 883.5h0M552.1 882.1h0M585.2 818.6h0M686.7 923.5h0M723.8 819.4h0M695.1 1026.5h0M736.5 807.4h0M622.0 1000.0h0M715.9 927.2h0M653.0 1024.3h0M649.6 883.0h0M649.4 811.8h0M617.1 948.7h0M686.4 891.9h0M697.4 870.0h0M562.1 916.8h0M556.5 844.3h0M669.2 868.3h0M553.6 926.2h0M647.9 792.8h0M665.5 925.2h0M641.9 985.7h0M563.1 896.7h0M552.6 840.6h0M614.0 800.6h0M609.0 817.6h0M627.1 951.0h0M686.6 804.4h0M623.9 856.9h0M648.1 859.3h0M621.0 843.8h0M720.1 1011.1h0M742.5 837.1h0M743.4 793.2h0M726.1 956.4h0M784.9 828.2h0M845.6 702.5h0M669.9 771.1h0M863.2 734.3h0M802.4 773.1h0M793.2 728.0h0M803.7 799.8h0M711.4 754.1h0M780.4 736.5h0M483.2 725.5h0M555.2 790.8h0M870.7 996.7h0M907.2 966.0h0M771.0 1086.7h0M750.8 1094.5h0M754.2 1100.3h0M768.3 1097.5h0M768.3 1109.2h0M811.7 1098.0h0M968.3 1090.3h0M783.4 1154.9h0M780.3 1177.1h0M796.0 1191.7h0M801.1 1216.1h0M813.1 1147.2h0M808.0 1213.7h0M352.5 608.0h0M333.3 687.8h0M348.3 685.5h0M341.3 696.7h0M365.8 697.5h0M387.8 698.3h0M409.2 741.7h0M396.3 743.3h0M483.0 725.8h0M555.5 790.5h0M662.2 540.8h0M673.3 586.7h0M664.5 613.3h0M673.7 617.5h0M688.3 555.0h0M723.3 572.8h0M753.8 586.7h0M685.8 584.2h0M689.2 602.0h0M818.5 490.7h0M809.5 478.9h0M804.9 477.6h0M793.6 468.6h0M798.7 477.6h0M813.7 499.7h0M825.6 527.9h0M830.7 500.9h0M839.0 527.7h0M810.3 447.1h0M880.9 431.4h0M941.6 543.4h0M953.0 548.2h0M952.4 568.9h0M961.4 576.1h0M983.4 570.0h0M967.1 545.5h0M942.8 536.4h0M955.9 536.1h0M936.3 544.6h0M923.7 544.5h0M963.0 592.7h0M967.3 563.3h0M935.5 539.1h0M970.2 549.2h0M930.3 537.3h0M836.7 543.3h0M842.2 540.0h0M844.2 562.2h0M834.5 583.3h0M870.0 582.0h0M882.5 597.5h0M850.5 627.0h0M871.2 635.0h0M922.2 622.2h0M966.3 239.7h0M946.7 258.0h0M872.5 278.3h0M850.3 352.5h0M875.0 372.5h0M862.5 376.3h0M890.0 378.3h0M868.7 393.8h0M881.7 433.3h0M881.7 438.3h0M803.3 448.3h0M842.5 455.3h0M795.8 466.3h0M1607.1 335.7h0M1620.1 343.1h0M1615.0 351.0h0M1641.6 348.8h0M1652.4 353.9h0M1662.0 348.2h0M1666.6 345.7h0M1636.5 372.0h0M1640.5 394.7h0M1670.5 416.2h0M993.3 668.4h0M933.2 639.4h0M941.7 652.3h0M875.6 653.9h0M849.4 677.4h0M825.3 639.7h0M1117.0 1051.5h0" stroke="#BA3878"/>
<path d="M1098.5 753.3h0M1085.2 767.9h0M1130.5 782.4h0M1276.6 791.3h0M1130.0 813.3h0M1276.7 791.0h0M1292.4 809.5h0M1342.9 836.8h0M1494.0 864.3h0M1494.7 879.3h0M1503.3 821.3h0M1473.7 865.3h0M1537.3 837.3h0M1618.4 798.3h0M1637.2 820.1h0M1612.7 826.7h0M1568.1 869.8h0M1594.8 873.5h0M1148.3 923.3h0M1234.3 966.0h0M1006.7 937.3h0M648.0 849.6h0M718.2 810.2h0M668.6 909.2h0M608.4 906.5h0M625.2 906.3h0M602.3 813.7h0M660.8 987.2h0M656.8 871.5h0M690.2 1026.4h0M665.5 819.9h0M537.2 872.4h0M580.7 961.2h0M604.6 960.0h0M696.7 908.3h0M718.9 779.3h0M649.5 796.0h0M721.9 906.2h0M734.6 818.9h0M595.0 982.2h0M625.7 1000.6h0M595.4 856.7h0M668.0 869.7h0M711.7 803.2h0M630.8 871.0h0M661.0 909.0h0M682.1 868.5h0M569.2 836.8h0M601.2 904.8h0M768.1 933.5h0M755.2 833.4h0M784.6 973.6h0M768.7 846.1h0M794.7 743.6h0M970.9 696.6h0M643.2 767.3h0M853.3 744.7h0M874.7 998.0h0M925.3 969.2h0M942.7 959.3h0M833.3 1075.3h0M715.3 1058.7h0M783.7 1087.2h0M756.2 1106.2h0M767.5 1110.8h0M760.0 1116.7h0M775.8 1118.3h0M833.3 1075.3h0M778.0 1148.0h0M818.8 1164.4h0M345.0 604.7h0M343.7 645.8h0M326.7 693.7h0M360.5 704.7h0M656.7 547.0h0M662.8 559.2h0M662.2 573.3h0M674.5 593.7h0M662.5 598.0h0M718.8 585.3h0M740.8 596.7h0M683.3 576.3h0M691.7 592.5h0M666.3 648.0h0M830.7 514.5h0M850.4 489.2h0M802.6 483.0h0M839.8 500.6h0M839.5 513.3h0M846.8 480.4h0M822.6 494.1h0M840.9 464.5h0M865.0 520.5h0M974.4 553.1h0M978.3 565.9h0M980.8 567.9h0M959.4 546.4h0M930.0 576.7h0M878.3 558.3h0M865.8 550.0h0M832.5 550.5h0M857.5 610.0h0M825.0 639.7h0M962.5 249.2h0M960.3 254.2h0M858.3 284.2h0M847.5 295.8h0M854.2 322.0h0M865.0 318.3h0M870.0 318.0h0M877.5 315.8h0M870.5 365.8h0M867.5 378.3h0M820.8 424.2h0M1603.7 331.2h0M1636.5 352.7h0M1634.8 360.7h0M1643.3 357.3h0M1673.4 354.4h0M1662.0 379.9h0M1653.5 389.0h0M1659.2 391.8h0M939.7 637.9h0M996.2 655.4h0M991.3 651.3h0M938.9 682.3h0M930.7 660.3h0M913.4 676.8h0M1004.9 684.3h0M884.3 660.9h0M890.3 685.3h0M867.4 655.1h0M820.8 664.2h0M772.9 594.9h0M1126.8 1062.0h0M1128.8 1094.5h0M1135.5 1097.2h0" stroke="#B1357B"/>
<path d="M1447.6 833.1h0M1598.7 853.1h0M1230.7 968.3h0M568.9 858.3h0M648.1 954.3h0M584.3 821.0h0M589.8 842.8h0M613.2 806.5h0M610.6 817.7h0M758.9 911.1h0M750.6 809.8h0M739.4 725.6h0M723.3 1058.0h0M666.7 578.7h0M700.0 556.7h0M835.3 454.3h0M866.3 483.3h0M845.3 520.0h0M951.8 556.0h0M982.1 581.2h0M805.8 467.5h0M940.5 651.3h0M921.3 666.4h0M907.5 687.0h0M775.3 606.4h0" stroke="#FDA26E"/>
<path d="M1523.3 876.9h0M535.8 864.3h0M656.8 1011.9h0M531.7 801.9h0M609.0 869.2h0M708.9 865.2h0M630.8 937.9h0M731.6 959.3h0M800.9 757.3h0M785.5 724.6h0M854.6 724.6h0M866.7 744.7h0M880.0 982.0h0M693.0 1036.2h0M340.5 663.7h0M649.2 526.7h0M661.7 568.0h0M693.3 558.0h0M688.7 612.5h0M855.5 584.5h0M851.3 382.5h0M940.1 649.8h0M841.2 644.4h0M809.2 684.4h0M861.3 680.9h0M812.0 676.3h0" stroke="#F98060"/>
<path d="M1566.0 847.1h0M1614.0 837.3h0M580.1 943.9h0M521.2 844.9h0M541.6 832.9h0M603.6 918.8h0M687.2 899.5h0M754.5 824.0h0M761.7 821.5h0M775.1 980.4h0M876.8 715.8h0M827.0 742.1h0M877.7 694.7h0M775.0 1131.7h0M596.7 804.2h0M644.2 525.0h0M656.3 525.8h0M720.8 580.3h0M959.2 464.7h0M935.7 548.1h0M956.5 554.3h0M775.5 606.3h0M840.8 383.8h0M832.5 423.3h0M924.8 643.3h0M822.3 686.6h0" stroke="#FC9366"/>
<path d="M1145.0 924.3h0M1238.3 970.7h0M535.7 829.7h0M699.4 985.7h0M690.9 944.2h0M715.7 824.6h0M658.7 917.8h0M719.3 850.7h0M692.3 921.1h0M655.7 910.5h0M748.1 965.8h0M777.5 995.9h0M799.2 734.8h0M781.6 742.2h0M881.9 728.7h0M687.5 1044.2h0M706.7 1022.0h0M781.7 1124.7h0M805.8 1139.2h0M379.2 596.3h0M668.3 575.0h0M775.3 606.2h0M838.5 504.1h0M792.8 465.4h0M813.8 450.0h0M993.1 653.3h0M1146.2 1085.5h0" stroke="#FB8861"/>
<path d="M614.8 1004.0h0M486.3 796.5h0M767.0 975.1h0M777.1 968.4h0M676.7 550.5h0M703.3 561.7h0M728.3 608.3h0M817.5 496.1h0" stroke="#FCFDBF"/>
<path d="M653.2 866.3h0M728.1 808.8h0M741.2 981.6h0M939.6 704.7h0M656.7 647.5h0M820.6 522.5h0M968.3 622.5h0" stroke="#FCF5B4"/>
</g>
<g id="axes" stroke="#000" stroke-width="4.6" fill="none" stroke-linecap="butt">
<path d="M205.4 143V1302.3H1829"/>
<path d="M191 197.5H205M191 489.8H205M191 782.1H205M191 1074.4H205"/>
<path d="M278.8 1302V1317M599.2 1302V1317M919.6 1302V1317M1240.2 1302V1317M1560.8 1302V1317"/>
</g>
<g font-size="51.4" letter-spacing="1.2" text-anchor="end">
<text transform="translate(178.4 215.8) scale(0.931 1)">0</text><path d="M139.3 180.1V215.9H134.7V190.7H126.9V187.9Q135.9 187.1 136.5 180.1Z" fill="#000"/><text transform="translate(178.4 508.1) scale(0.931 1)">5</text><text transform="translate(178.4 800.4) scale(0.931 1)">0</text><text transform="translate(178.4 1092.7) scale(0.931 1)">-5</text>
</g>
<g font-size="51.4" letter-spacing="1.2" text-anchor="middle">
<text transform="translate(242.7 1366.0) scale(0.931 1)" text-anchor="start">-</text><text transform="translate(288.2 1366.0) scale(0.931 1)" text-anchor="start">0</text><path d="M276.9 1330.3V1366.1H272.3V1340.9H264.5V1338.1Q273.5 1337.3 274.1 1330.3Z" fill="#000"/><text transform="translate(600.0 1366.0) scale(0.931 1)">-5</text><text transform="translate(920.4 1366.0) scale(0.931 1)">0</text><text transform="translate(1241.0 1366.0) scale(0.931 1)">5</text><text transform="translate(1561.8 1366.0) scale(0.931 1)" text-anchor="start">0</text><path d="M1550.5 1330.3V1366.1H1545.9V1340.9H1538.1V1338.1Q1547.1 1337.3 1547.7 1330.3Z" fill="#000"/>
</g>
<text transform="translate(900 1434.6) scale(0.918 1)" font-size="63.5">UMAP_</text>
<path d="M1120.6 1392.8V1434.6H1114.8V1405.4H1105.6V1402.2Q1116.2 1401 1117.4 1392.8Z" fill="#000"/>
<text transform="translate(95 722.5) rotate(-90) scale(0.918 1)" font-size="63.5" text-anchor="middle">UMAP_2</text>
<text transform="translate(923.2 100.8) scale(0.93 1)" font-size="71" font-weight="bold">VWA</text>
<path d="M1098.3 53.6V100.8H1088.9V68.3H1077.5V62Q1088.5 62 1091.6 53.6Z" fill="#000"/>
<rect x="1885" y="578.3" width="64" height="318.5" fill="url(#mg)"/>
<g stroke="#fff" stroke-width="2.2"><path d="M1885 667.6h12.8M1936.2 667.6h12.8M1885 782.4h12.8M1936.2 782.4h12.8M1885 896.6h12.8M1936.2 896.6h12.8"/></g>
<g font-size="51.4" letter-spacing="1.2"><text transform="translate(2004.8 685.6) scale(0.931 1)">.0</text><path d="M1994.4 649.9V685.7H1989.8V660.5H1982.0V657.7Q1991.0 656.9 1991.6 649.9Z" fill="#000"/><text transform="translate(1978 800.6) scale(0.931 1)">0.5</text><text transform="translate(1978 915.0) scale(0.931 1)">0.0</text></g>
</svg>
</body></html>
